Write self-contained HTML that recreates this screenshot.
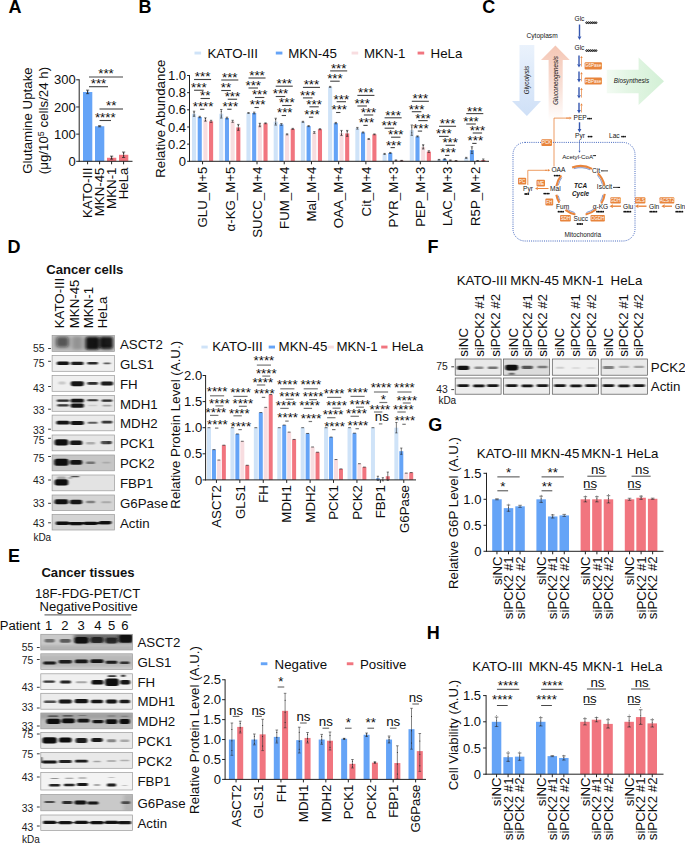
<!DOCTYPE html>
<html><head><meta charset="utf-8"><title>Figure</title>
<style>html,body{margin:0;padding:0;background:#fff}svg{display:block}text{font-family:"Liberation Sans",sans-serif}</style></head>
<body>
<svg width="685" height="844" viewBox="0 0 685 844">
<rect width="685" height="844" fill="#fff"/>
<text x="8.60" y="13.00" font-size="18" font-weight="bold" fill="#000" >A</text>
<text x="138.50" y="13.00" font-size="18" font-weight="bold" fill="#000" >B</text>
<text x="482.20" y="13.10" font-size="18" font-weight="bold" fill="#000" >C</text>
<text x="7.50" y="252.80" font-size="18" font-weight="bold" fill="#000" >D</text>
<text x="8.10" y="562.20" font-size="18" font-weight="bold" fill="#000" >E</text>
<text x="427.60" y="252.80" font-size="18" font-weight="bold" fill="#000" >F</text>
<text x="428.20" y="430.80" font-size="18" font-weight="bold" fill="#000" >G</text>
<text x="426.70" y="638.90" font-size="18" font-weight="bold" fill="#000" >H</text>
<rect x="83.00" y="92.02" width="9.30" height="69.28" fill="#65a4f7" />
<rect x="95.00" y="126.25" width="9.30" height="35.05" fill="#65a4f7" />
<rect x="107.00" y="157.77" width="9.30" height="3.53" fill="#f1757f" />
<rect x="119.00" y="154.78" width="9.30" height="6.52" fill="#f1757f" />
<line x1="87.60" y1="90.12" x2="87.60" y2="93.66" stroke="#222" stroke-width="0.7" />
<line x1="86.00" y1="90.12" x2="89.20" y2="90.12" stroke="#222" stroke-width="0.7" />
<line x1="86.00" y1="93.66" x2="89.20" y2="93.66" stroke="#222" stroke-width="0.7" />
<line x1="99.60" y1="125.71" x2="99.60" y2="126.80" stroke="#222" stroke-width="0.7" />
<line x1="98.00" y1="125.71" x2="101.20" y2="125.71" stroke="#222" stroke-width="0.7" />
<line x1="98.00" y1="126.80" x2="101.20" y2="126.80" stroke="#222" stroke-width="0.7" />
<line x1="111.60" y1="156.14" x2="111.60" y2="159.13" stroke="#222" stroke-width="0.7" />
<line x1="110.00" y1="156.14" x2="113.20" y2="156.14" stroke="#222" stroke-width="0.7" />
<line x1="110.00" y1="159.13" x2="113.20" y2="159.13" stroke="#222" stroke-width="0.7" />
<line x1="123.60" y1="152.06" x2="123.60" y2="157.50" stroke="#222" stroke-width="0.7" />
<line x1="122.00" y1="152.06" x2="125.20" y2="152.06" stroke="#222" stroke-width="0.7" />
<line x1="122.00" y1="157.50" x2="125.20" y2="157.50" stroke="#222" stroke-width="0.7" />
<circle cx="87.60" cy="91.21" r="0.6" fill="#222"/>
<circle cx="87.60" cy="92.84" r="0.6" fill="#222"/>
<circle cx="111.60" cy="156.95" r="0.6" fill="#222"/>
<circle cx="111.60" cy="158.58" r="0.6" fill="#222"/>
<circle cx="123.60" cy="153.15" r="0.6" fill="#222"/>
<circle cx="123.60" cy="155.87" r="0.6" fill="#222"/>
<line x1="79.20" y1="79.30" x2="79.20" y2="161.80" stroke="#222" stroke-width="1" />
<line x1="78.70" y1="161.30" x2="132.50" y2="161.30" stroke="#222" stroke-width="1" />
<line x1="76.20" y1="161.30" x2="79.20" y2="161.30" stroke="#222" stroke-width="1" />
<text x="75.80" y="165.90" font-size="13" text-anchor="end" fill="#0d0d0d" >0</text>
<line x1="76.20" y1="134.13" x2="79.20" y2="134.13" stroke="#222" stroke-width="1" />
<text x="75.80" y="138.73" font-size="13" text-anchor="end" fill="#0d0d0d" >100</text>
<line x1="76.20" y1="106.97" x2="79.20" y2="106.97" stroke="#222" stroke-width="1" />
<text x="75.80" y="111.57" font-size="13" text-anchor="end" fill="#0d0d0d" >200</text>
<line x1="76.20" y1="79.80" x2="79.20" y2="79.80" stroke="#222" stroke-width="1" />
<text x="75.80" y="84.40" font-size="13" text-anchor="end" fill="#0d0d0d" >300</text>
<line x1="87.60" y1="161.30" x2="87.60" y2="164.30" stroke="#222" stroke-width="1" />
<text x="92.36" y="167.50" font-size="13.3" text-anchor="end" fill="#0d0d0d" transform="rotate(-90 92.36 167.50)" >KATO-III</text>
<line x1="99.60" y1="161.30" x2="99.60" y2="164.30" stroke="#222" stroke-width="1" />
<text x="104.36" y="167.50" font-size="13.3" text-anchor="end" fill="#0d0d0d" transform="rotate(-90 104.36 167.50)" >MKN-45</text>
<line x1="111.60" y1="161.30" x2="111.60" y2="164.30" stroke="#222" stroke-width="1" />
<text x="116.36" y="167.50" font-size="13.3" text-anchor="end" fill="#0d0d0d" transform="rotate(-90 116.36 167.50)" >MKN-1</text>
<line x1="123.60" y1="161.30" x2="123.60" y2="164.30" stroke="#222" stroke-width="1" />
<text x="128.36" y="167.50" font-size="13.3" text-anchor="end" fill="#0d0d0d" transform="rotate(-90 128.36 167.50)" >HeLa</text>
<text x="32.00" y="120.50" font-size="13.3" text-anchor="middle" fill="#0d0d0d" transform="rotate(-90 32.00 120.50)" >Glutamine Uptake</text>
<text x="48.00" y="120.50" font-size="13.3" text-anchor="middle" fill="#0d0d0d" transform="rotate(-90 48.00 120.50)" >(μg/10<tspan font-size="9" dy="-4.5">5</tspan><tspan dy="4.5"> cells/24 h)</tspan></text>
<line x1="89.00" y1="77.00" x2="123.00" y2="77.00" stroke="#444" stroke-width="1.1" />
<text x="106.00" y="77.90" font-size="13.3" text-anchor="middle" fill="#0d0d0d" >***</text>
<line x1="89.00" y1="86.70" x2="108.00" y2="86.70" stroke="#444" stroke-width="1.1" />
<text x="98.50" y="87.60" font-size="13.3" text-anchor="middle" fill="#0d0d0d" >***</text>
<line x1="99.50" y1="109.00" x2="123.00" y2="109.00" stroke="#444" stroke-width="1.1" />
<text x="111.25" y="109.80" font-size="13.3" text-anchor="middle" fill="#0d0d0d" >**</text>
<line x1="99.50" y1="120.50" x2="111.00" y2="120.50" stroke="#444" stroke-width="1.1" />
<text x="105.25" y="122.10" font-size="13.3" text-anchor="middle" fill="#0d0d0d" >****</text>
<rect x="192.00" y="113.77" width="4.10" height="47.53" fill="#cfe3f8" />
<line x1="194.05" y1="111.19" x2="194.05" y2="116.34" stroke="#222" stroke-width="0.6" />
<line x1="192.85" y1="111.19" x2="195.25" y2="111.19" stroke="#222" stroke-width="0.6" />
<line x1="192.85" y1="116.34" x2="195.25" y2="116.34" stroke="#222" stroke-width="0.6" />
<circle cx="194.05" cy="112.22" r="0.5" fill="#222"/>
<circle cx="194.05" cy="115.05" r="0.5" fill="#222"/>
<rect x="197.68" y="117.03" width="4.10" height="44.27" fill="#65a4f7" />
<line x1="199.73" y1="116.34" x2="199.73" y2="117.71" stroke="#222" stroke-width="0.6" />
<line x1="198.53" y1="116.34" x2="200.93" y2="116.34" stroke="#222" stroke-width="0.6" />
<line x1="198.53" y1="117.71" x2="200.93" y2="117.71" stroke="#222" stroke-width="0.6" />
<rect x="203.36" y="119.52" width="4.10" height="41.78" fill="#f8dde0" />
<line x1="205.41" y1="117.80" x2="205.41" y2="121.23" stroke="#222" stroke-width="0.6" />
<line x1="204.21" y1="117.80" x2="206.61" y2="117.80" stroke="#222" stroke-width="0.6" />
<line x1="204.21" y1="121.23" x2="206.61" y2="121.23" stroke="#222" stroke-width="0.6" />
<circle cx="205.41" cy="118.49" r="0.5" fill="#222"/>
<circle cx="205.41" cy="120.37" r="0.5" fill="#222"/>
<rect x="209.04" y="121.32" width="4.10" height="39.98" fill="#f1757f" />
<line x1="211.09" y1="120.29" x2="211.09" y2="122.35" stroke="#222" stroke-width="0.6" />
<line x1="209.89" y1="120.29" x2="212.29" y2="120.29" stroke="#222" stroke-width="0.6" />
<line x1="209.89" y1="122.35" x2="212.29" y2="122.35" stroke="#222" stroke-width="0.6" />
<line x1="194.05" y1="79.50" x2="211.09" y2="79.50" stroke="#444" stroke-width="1.1" />
<text x="202.57" y="81.40" font-size="13.3" text-anchor="middle" fill="#0d0d0d" >***</text>
<line x1="194.05" y1="90.25" x2="203.61" y2="90.25" stroke="#444" stroke-width="1.1" />
<text x="198.83" y="92.15" font-size="13.3" text-anchor="middle" fill="#0d0d0d" >***</text>
<line x1="200.53" y1="98.50" x2="209.89" y2="98.50" stroke="#444" stroke-width="1.1" />
<text x="205.21" y="100.40" font-size="13.3" text-anchor="middle" fill="#0d0d0d" >**</text>
<line x1="200.03" y1="109.25" x2="204.33" y2="109.25" stroke="#444" stroke-width="1.1" />
<text x="203.13" y="111.15" font-size="13.3" text-anchor="middle" fill="#0d0d0d" >****</text>
<line x1="202.57" y1="161.30" x2="202.57" y2="164.30" stroke="#222" stroke-width="1" />
<text x="207.33" y="166.50" font-size="13.3" text-anchor="end" fill="#0d0d0d" transform="rotate(-90 207.33 166.50)" >GLU_M+5</text>
<rect x="219.22" y="113.77" width="4.10" height="47.53" fill="#cfe3f8" />
<line x1="221.27" y1="109.48" x2="221.27" y2="118.06" stroke="#222" stroke-width="0.6" />
<line x1="220.07" y1="109.48" x2="222.47" y2="109.48" stroke="#222" stroke-width="0.6" />
<line x1="220.07" y1="118.06" x2="222.47" y2="118.06" stroke="#222" stroke-width="0.6" />
<circle cx="221.27" cy="111.19" r="0.5" fill="#222"/>
<circle cx="221.27" cy="115.91" r="0.5" fill="#222"/>
<rect x="224.90" y="118.06" width="4.10" height="43.24" fill="#65a4f7" />
<line x1="226.95" y1="117.20" x2="226.95" y2="118.91" stroke="#222" stroke-width="0.6" />
<line x1="225.75" y1="117.20" x2="228.15" y2="117.20" stroke="#222" stroke-width="0.6" />
<line x1="225.75" y1="118.91" x2="228.15" y2="118.91" stroke="#222" stroke-width="0.6" />
<rect x="230.58" y="121.32" width="4.10" height="39.98" fill="#f8dde0" />
<line x1="232.63" y1="120.29" x2="232.63" y2="122.35" stroke="#222" stroke-width="0.6" />
<line x1="231.43" y1="120.29" x2="233.83" y2="120.29" stroke="#222" stroke-width="0.6" />
<line x1="231.43" y1="122.35" x2="233.83" y2="122.35" stroke="#222" stroke-width="0.6" />
<rect x="236.26" y="127.41" width="4.10" height="33.89" fill="#f1757f" />
<line x1="238.31" y1="124.41" x2="238.31" y2="130.41" stroke="#222" stroke-width="0.6" />
<line x1="237.11" y1="124.41" x2="239.51" y2="124.41" stroke="#222" stroke-width="0.6" />
<line x1="237.11" y1="130.41" x2="239.51" y2="130.41" stroke="#222" stroke-width="0.6" />
<circle cx="238.31" cy="125.61" r="0.5" fill="#222"/>
<circle cx="238.31" cy="128.91" r="0.5" fill="#222"/>
<line x1="221.27" y1="80.00" x2="238.31" y2="80.00" stroke="#444" stroke-width="1.1" />
<text x="229.79" y="81.90" font-size="13.3" text-anchor="middle" fill="#0d0d0d" >***</text>
<line x1="221.27" y1="90.50" x2="230.83" y2="90.50" stroke="#444" stroke-width="1.1" />
<text x="226.05" y="92.40" font-size="13.3" text-anchor="middle" fill="#0d0d0d" >**</text>
<line x1="227.75" y1="99.25" x2="237.11" y2="99.25" stroke="#444" stroke-width="1.1" />
<text x="232.43" y="101.15" font-size="13.3" text-anchor="middle" fill="#0d0d0d" >***</text>
<line x1="227.25" y1="109.25" x2="231.55" y2="109.25" stroke="#444" stroke-width="1.1" />
<text x="230.35" y="111.15" font-size="13.3" text-anchor="middle" fill="#0d0d0d" >***</text>
<line x1="229.79" y1="161.30" x2="229.79" y2="164.30" stroke="#222" stroke-width="1" />
<text x="234.55" y="166.50" font-size="13.3" text-anchor="end" fill="#0d0d0d" transform="rotate(-90 234.55 166.50)" >α-KG_M+5</text>
<rect x="246.44" y="112.99" width="4.10" height="48.31" fill="#cfe3f8" />
<line x1="248.49" y1="112.57" x2="248.49" y2="113.42" stroke="#222" stroke-width="0.6" />
<line x1="247.29" y1="112.57" x2="249.69" y2="112.57" stroke="#222" stroke-width="0.6" />
<line x1="247.29" y1="113.42" x2="249.69" y2="113.42" stroke="#222" stroke-width="0.6" />
<rect x="252.12" y="112.99" width="4.10" height="48.31" fill="#65a4f7" />
<line x1="254.17" y1="112.14" x2="254.17" y2="113.85" stroke="#222" stroke-width="0.6" />
<line x1="252.97" y1="112.14" x2="255.37" y2="112.14" stroke="#222" stroke-width="0.6" />
<line x1="252.97" y1="113.85" x2="255.37" y2="113.85" stroke="#222" stroke-width="0.6" />
<rect x="257.80" y="125.01" width="4.10" height="36.29" fill="#f8dde0" />
<line x1="259.85" y1="123.29" x2="259.85" y2="126.72" stroke="#222" stroke-width="0.6" />
<line x1="258.65" y1="123.29" x2="261.05" y2="123.29" stroke="#222" stroke-width="0.6" />
<line x1="258.65" y1="126.72" x2="261.05" y2="126.72" stroke="#222" stroke-width="0.6" />
<circle cx="259.85" cy="123.98" r="0.5" fill="#222"/>
<circle cx="259.85" cy="125.86" r="0.5" fill="#222"/>
<rect x="263.48" y="123.29" width="4.10" height="38.01" fill="#f1757f" />
<line x1="265.53" y1="122.86" x2="265.53" y2="123.72" stroke="#222" stroke-width="0.6" />
<line x1="264.33" y1="122.86" x2="266.73" y2="122.86" stroke="#222" stroke-width="0.6" />
<line x1="264.33" y1="123.72" x2="266.73" y2="123.72" stroke="#222" stroke-width="0.6" />
<line x1="248.49" y1="78.00" x2="265.53" y2="78.00" stroke="#444" stroke-width="1.1" />
<text x="257.01" y="79.90" font-size="13.3" text-anchor="middle" fill="#0d0d0d" >***</text>
<line x1="248.49" y1="88.00" x2="258.05" y2="88.00" stroke="#444" stroke-width="1.1" />
<text x="253.27" y="89.90" font-size="13.3" text-anchor="middle" fill="#0d0d0d" >***</text>
<line x1="254.97" y1="97.50" x2="264.33" y2="97.50" stroke="#444" stroke-width="1.1" />
<text x="259.65" y="99.40" font-size="13.3" text-anchor="middle" fill="#0d0d0d" >***</text>
<line x1="254.47" y1="107.50" x2="258.77" y2="107.50" stroke="#444" stroke-width="1.1" />
<text x="257.57" y="109.40" font-size="13.3" text-anchor="middle" fill="#0d0d0d" >***</text>
<line x1="257.01" y1="161.30" x2="257.01" y2="164.30" stroke="#222" stroke-width="1" />
<text x="261.77" y="166.50" font-size="13.3" text-anchor="end" fill="#0d0d0d" transform="rotate(-90 261.77 166.50)" >SUCC_M+4</text>
<rect x="273.66" y="121.66" width="4.10" height="39.64" fill="#cfe3f8" />
<line x1="275.71" y1="118.23" x2="275.71" y2="125.09" stroke="#222" stroke-width="0.6" />
<line x1="274.51" y1="118.23" x2="276.91" y2="118.23" stroke="#222" stroke-width="0.6" />
<line x1="274.51" y1="125.09" x2="276.91" y2="125.09" stroke="#222" stroke-width="0.6" />
<circle cx="275.71" cy="119.60" r="0.5" fill="#222"/>
<circle cx="275.71" cy="123.38" r="0.5" fill="#222"/>
<rect x="279.34" y="124.41" width="4.10" height="36.89" fill="#65a4f7" />
<line x1="281.39" y1="123.55" x2="281.39" y2="125.26" stroke="#222" stroke-width="0.6" />
<line x1="280.19" y1="123.55" x2="282.59" y2="123.55" stroke="#222" stroke-width="0.6" />
<line x1="280.19" y1="125.26" x2="282.59" y2="125.26" stroke="#222" stroke-width="0.6" />
<rect x="285.02" y="134.36" width="4.10" height="26.94" fill="#f8dde0" />
<line x1="287.07" y1="133.84" x2="287.07" y2="134.87" stroke="#222" stroke-width="0.6" />
<line x1="285.87" y1="133.84" x2="288.27" y2="133.84" stroke="#222" stroke-width="0.6" />
<line x1="285.87" y1="134.87" x2="288.27" y2="134.87" stroke="#222" stroke-width="0.6" />
<rect x="290.70" y="128.87" width="4.10" height="32.43" fill="#f1757f" />
<line x1="292.75" y1="128.35" x2="292.75" y2="129.38" stroke="#222" stroke-width="0.6" />
<line x1="291.55" y1="128.35" x2="293.95" y2="128.35" stroke="#222" stroke-width="0.6" />
<line x1="291.55" y1="129.38" x2="293.95" y2="129.38" stroke="#222" stroke-width="0.6" />
<line x1="275.71" y1="86.20" x2="292.75" y2="86.20" stroke="#444" stroke-width="1.1" />
<text x="284.23" y="88.10" font-size="13.3" text-anchor="middle" fill="#0d0d0d" >***</text>
<line x1="275.71" y1="96.50" x2="285.27" y2="96.50" stroke="#444" stroke-width="1.1" />
<text x="280.49" y="98.40" font-size="13.3" text-anchor="middle" fill="#0d0d0d" >***</text>
<line x1="282.19" y1="105.50" x2="291.55" y2="105.50" stroke="#444" stroke-width="1.1" />
<text x="286.87" y="107.40" font-size="13.3" text-anchor="middle" fill="#0d0d0d" >***</text>
<line x1="281.69" y1="115.50" x2="285.99" y2="115.50" stroke="#444" stroke-width="1.1" />
<text x="284.79" y="117.40" font-size="13.3" text-anchor="middle" fill="#0d0d0d" >***</text>
<line x1="284.23" y1="161.30" x2="284.23" y2="164.30" stroke="#222" stroke-width="1" />
<text x="288.99" y="166.50" font-size="13.3" text-anchor="end" fill="#0d0d0d" transform="rotate(-90 288.99 166.50)" >FUM_M+4</text>
<rect x="300.88" y="121.83" width="4.10" height="39.47" fill="#cfe3f8" />
<line x1="302.93" y1="121.32" x2="302.93" y2="122.35" stroke="#222" stroke-width="0.6" />
<line x1="301.73" y1="121.32" x2="304.13" y2="121.32" stroke="#222" stroke-width="0.6" />
<line x1="301.73" y1="122.35" x2="304.13" y2="122.35" stroke="#222" stroke-width="0.6" />
<rect x="306.56" y="126.12" width="4.10" height="35.18" fill="#65a4f7" />
<line x1="308.61" y1="125.61" x2="308.61" y2="126.64" stroke="#222" stroke-width="0.6" />
<line x1="307.41" y1="125.61" x2="309.81" y2="125.61" stroke="#222" stroke-width="0.6" />
<line x1="307.41" y1="126.64" x2="309.81" y2="126.64" stroke="#222" stroke-width="0.6" />
<rect x="312.24" y="132.47" width="4.10" height="28.83" fill="#f8dde0" />
<line x1="314.29" y1="131.61" x2="314.29" y2="133.33" stroke="#222" stroke-width="0.6" />
<line x1="313.09" y1="131.61" x2="315.49" y2="131.61" stroke="#222" stroke-width="0.6" />
<line x1="313.09" y1="133.33" x2="315.49" y2="133.33" stroke="#222" stroke-width="0.6" />
<rect x="317.92" y="129.21" width="4.10" height="32.09" fill="#f1757f" />
<line x1="319.97" y1="128.70" x2="319.97" y2="129.73" stroke="#222" stroke-width="0.6" />
<line x1="318.77" y1="128.70" x2="321.17" y2="128.70" stroke="#222" stroke-width="0.6" />
<line x1="318.77" y1="129.73" x2="321.17" y2="129.73" stroke="#222" stroke-width="0.6" />
<line x1="302.93" y1="87.40" x2="319.97" y2="87.40" stroke="#444" stroke-width="1.1" />
<text x="311.45" y="89.30" font-size="13.3" text-anchor="middle" fill="#0d0d0d" >***</text>
<line x1="302.93" y1="97.90" x2="312.49" y2="97.90" stroke="#444" stroke-width="1.1" />
<text x="307.71" y="99.80" font-size="13.3" text-anchor="middle" fill="#0d0d0d" >***</text>
<line x1="309.41" y1="106.80" x2="318.77" y2="106.80" stroke="#444" stroke-width="1.1" />
<text x="314.09" y="108.70" font-size="13.3" text-anchor="middle" fill="#0d0d0d" >***</text>
<line x1="308.91" y1="117.20" x2="313.21" y2="117.20" stroke="#444" stroke-width="1.1" />
<text x="312.01" y="119.10" font-size="13.3" text-anchor="middle" fill="#0d0d0d" >***</text>
<line x1="311.45" y1="161.30" x2="311.45" y2="164.30" stroke="#222" stroke-width="1" />
<text x="316.21" y="166.50" font-size="13.3" text-anchor="end" fill="#0d0d0d" transform="rotate(-90 316.21 166.50)" >Mal_M+4</text>
<rect x="328.10" y="86.91" width="4.10" height="74.39" fill="#cfe3f8" />
<line x1="330.15" y1="86.40" x2="330.15" y2="87.43" stroke="#222" stroke-width="0.6" />
<line x1="328.95" y1="86.40" x2="331.35" y2="86.40" stroke="#222" stroke-width="0.6" />
<line x1="328.95" y1="87.43" x2="331.35" y2="87.43" stroke="#222" stroke-width="0.6" />
<rect x="333.78" y="123.12" width="4.10" height="38.18" fill="#65a4f7" />
<line x1="335.83" y1="122.43" x2="335.83" y2="123.81" stroke="#222" stroke-width="0.6" />
<line x1="334.63" y1="122.43" x2="337.03" y2="122.43" stroke="#222" stroke-width="0.6" />
<line x1="334.63" y1="123.81" x2="337.03" y2="123.81" stroke="#222" stroke-width="0.6" />
<rect x="339.46" y="132.99" width="4.10" height="28.31" fill="#f8dde0" />
<line x1="341.51" y1="130.41" x2="341.51" y2="135.56" stroke="#222" stroke-width="0.6" />
<line x1="340.31" y1="130.41" x2="342.71" y2="130.41" stroke="#222" stroke-width="0.6" />
<line x1="340.31" y1="135.56" x2="342.71" y2="135.56" stroke="#222" stroke-width="0.6" />
<circle cx="341.51" cy="131.44" r="0.5" fill="#222"/>
<circle cx="341.51" cy="134.27" r="0.5" fill="#222"/>
<rect x="345.14" y="133.42" width="4.10" height="27.89" fill="#f1757f" />
<line x1="347.19" y1="130.41" x2="347.19" y2="136.42" stroke="#222" stroke-width="0.6" />
<line x1="345.99" y1="130.41" x2="348.39" y2="130.41" stroke="#222" stroke-width="0.6" />
<line x1="345.99" y1="136.42" x2="348.39" y2="136.42" stroke="#222" stroke-width="0.6" />
<circle cx="347.19" cy="131.61" r="0.5" fill="#222"/>
<circle cx="347.19" cy="134.92" r="0.5" fill="#222"/>
<line x1="330.15" y1="70.90" x2="347.19" y2="70.90" stroke="#444" stroke-width="1.1" />
<text x="338.67" y="72.80" font-size="13.3" text-anchor="middle" fill="#0d0d0d" >***</text>
<line x1="330.15" y1="81.20" x2="339.71" y2="81.20" stroke="#444" stroke-width="1.1" />
<text x="334.93" y="83.10" font-size="13.3" text-anchor="middle" fill="#0d0d0d" >***</text>
<line x1="336.63" y1="101.70" x2="345.99" y2="101.70" stroke="#444" stroke-width="1.1" />
<text x="341.31" y="103.60" font-size="13.3" text-anchor="middle" fill="#0d0d0d" >***</text>
<line x1="336.13" y1="112.50" x2="340.43" y2="112.50" stroke="#444" stroke-width="1.1" />
<text x="339.23" y="114.40" font-size="13.3" text-anchor="middle" fill="#0d0d0d" >***</text>
<line x1="338.67" y1="161.30" x2="338.67" y2="164.30" stroke="#222" stroke-width="1" />
<text x="343.43" y="166.50" font-size="13.3" text-anchor="end" fill="#0d0d0d" transform="rotate(-90 343.43 166.50)" >OAA_M+4</text>
<rect x="355.32" y="128.27" width="4.10" height="33.03" fill="#cfe3f8" />
<line x1="357.37" y1="127.41" x2="357.37" y2="129.12" stroke="#222" stroke-width="0.6" />
<line x1="356.17" y1="127.41" x2="358.57" y2="127.41" stroke="#222" stroke-width="0.6" />
<line x1="356.17" y1="129.12" x2="358.57" y2="129.12" stroke="#222" stroke-width="0.6" />
<rect x="361.00" y="132.47" width="4.10" height="28.83" fill="#65a4f7" />
<line x1="363.05" y1="131.96" x2="363.05" y2="132.99" stroke="#222" stroke-width="0.6" />
<line x1="361.85" y1="131.96" x2="364.25" y2="131.96" stroke="#222" stroke-width="0.6" />
<line x1="361.85" y1="132.99" x2="364.25" y2="132.99" stroke="#222" stroke-width="0.6" />
<rect x="366.68" y="138.99" width="4.10" height="22.31" fill="#f8dde0" />
<line x1="368.73" y1="138.48" x2="368.73" y2="139.51" stroke="#222" stroke-width="0.6" />
<line x1="367.53" y1="138.48" x2="369.93" y2="138.48" stroke="#222" stroke-width="0.6" />
<line x1="367.53" y1="139.51" x2="369.93" y2="139.51" stroke="#222" stroke-width="0.6" />
<rect x="372.36" y="134.36" width="4.10" height="26.94" fill="#f1757f" />
<line x1="374.41" y1="133.93" x2="374.41" y2="134.79" stroke="#222" stroke-width="0.6" />
<line x1="373.21" y1="133.93" x2="375.61" y2="133.93" stroke="#222" stroke-width="0.6" />
<line x1="373.21" y1="134.79" x2="375.61" y2="134.79" stroke="#222" stroke-width="0.6" />
<line x1="357.37" y1="95.40" x2="374.41" y2="95.40" stroke="#444" stroke-width="1.1" />
<text x="365.89" y="97.30" font-size="13.3" text-anchor="middle" fill="#0d0d0d" >***</text>
<line x1="357.37" y1="106.00" x2="366.93" y2="106.00" stroke="#444" stroke-width="1.1" />
<text x="362.15" y="107.90" font-size="13.3" text-anchor="middle" fill="#0d0d0d" >***</text>
<line x1="363.85" y1="115.00" x2="373.21" y2="115.00" stroke="#444" stroke-width="1.1" />
<text x="368.53" y="116.90" font-size="13.3" text-anchor="middle" fill="#0d0d0d" >***</text>
<line x1="363.35" y1="125.40" x2="367.65" y2="125.40" stroke="#444" stroke-width="1.1" />
<text x="366.45" y="127.30" font-size="13.3" text-anchor="middle" fill="#0d0d0d" >***</text>
<line x1="365.89" y1="161.30" x2="365.89" y2="164.30" stroke="#222" stroke-width="1" />
<text x="370.65" y="166.50" font-size="13.3" text-anchor="end" fill="#0d0d0d" transform="rotate(-90 370.65 166.50)" >Cit_M+4</text>
<rect x="382.54" y="153.92" width="4.10" height="7.38" fill="#cfe3f8" />
<line x1="384.59" y1="153.41" x2="384.59" y2="154.44" stroke="#222" stroke-width="0.6" />
<line x1="383.39" y1="153.41" x2="385.79" y2="153.41" stroke="#222" stroke-width="0.6" />
<line x1="383.39" y1="154.44" x2="385.79" y2="154.44" stroke="#222" stroke-width="0.6" />
<rect x="388.22" y="152.98" width="4.10" height="8.32" fill="#65a4f7" />
<line x1="390.27" y1="152.46" x2="390.27" y2="153.49" stroke="#222" stroke-width="0.6" />
<line x1="389.07" y1="152.46" x2="391.47" y2="152.46" stroke="#222" stroke-width="0.6" />
<line x1="389.07" y1="153.49" x2="391.47" y2="153.49" stroke="#222" stroke-width="0.6" />
<rect x="393.90" y="160.27" width="4.10" height="1.03" fill="#f8dde0" />
<line x1="395.95" y1="159.93" x2="395.95" y2="160.61" stroke="#222" stroke-width="0.6" />
<line x1="394.75" y1="159.93" x2="397.15" y2="159.93" stroke="#222" stroke-width="0.6" />
<line x1="394.75" y1="160.61" x2="397.15" y2="160.61" stroke="#222" stroke-width="0.6" />
<rect x="399.58" y="160.61" width="4.10" height="0.69" fill="#f1757f" />
<line x1="401.63" y1="160.36" x2="401.63" y2="160.87" stroke="#222" stroke-width="0.6" />
<line x1="400.43" y1="160.36" x2="402.83" y2="160.36" stroke="#222" stroke-width="0.6" />
<line x1="400.43" y1="160.87" x2="402.83" y2="160.87" stroke="#222" stroke-width="0.6" />
<line x1="384.59" y1="117.80" x2="401.63" y2="117.80" stroke="#444" stroke-width="1.1" />
<text x="393.11" y="119.70" font-size="13.3" text-anchor="middle" fill="#0d0d0d" >***</text>
<line x1="384.59" y1="128.20" x2="394.15" y2="128.20" stroke="#444" stroke-width="1.1" />
<text x="389.37" y="130.10" font-size="13.3" text-anchor="middle" fill="#0d0d0d" >***</text>
<line x1="391.07" y1="137.20" x2="400.43" y2="137.20" stroke="#444" stroke-width="1.1" />
<text x="395.75" y="139.10" font-size="13.3" text-anchor="middle" fill="#0d0d0d" >***</text>
<line x1="390.57" y1="147.60" x2="394.87" y2="147.60" stroke="#444" stroke-width="1.1" />
<text x="393.67" y="149.50" font-size="13.3" text-anchor="middle" fill="#0d0d0d" >***</text>
<line x1="393.11" y1="161.30" x2="393.11" y2="164.30" stroke="#222" stroke-width="1" />
<text x="397.87" y="166.50" font-size="13.3" text-anchor="end" fill="#0d0d0d" transform="rotate(-90 397.87 166.50)" >PYR_M+3</text>
<rect x="409.76" y="130.15" width="4.10" height="31.15" fill="#cfe3f8" />
<line x1="411.81" y1="125.01" x2="411.81" y2="135.30" stroke="#222" stroke-width="0.6" />
<line x1="410.61" y1="125.01" x2="413.01" y2="125.01" stroke="#222" stroke-width="0.6" />
<line x1="410.61" y1="135.30" x2="413.01" y2="135.30" stroke="#222" stroke-width="0.6" />
<circle cx="411.81" cy="127.07" r="0.5" fill="#222"/>
<circle cx="411.81" cy="132.73" r="0.5" fill="#222"/>
<rect x="415.44" y="136.42" width="4.10" height="24.88" fill="#65a4f7" />
<line x1="417.49" y1="135.90" x2="417.49" y2="136.93" stroke="#222" stroke-width="0.6" />
<line x1="416.29" y1="135.90" x2="418.69" y2="135.90" stroke="#222" stroke-width="0.6" />
<line x1="416.29" y1="136.93" x2="418.69" y2="136.93" stroke="#222" stroke-width="0.6" />
<rect x="421.12" y="146.89" width="4.10" height="14.41" fill="#f8dde0" />
<line x1="423.17" y1="144.74" x2="423.17" y2="149.03" stroke="#222" stroke-width="0.6" />
<line x1="421.97" y1="144.74" x2="424.37" y2="144.74" stroke="#222" stroke-width="0.6" />
<line x1="421.97" y1="149.03" x2="424.37" y2="149.03" stroke="#222" stroke-width="0.6" />
<circle cx="423.17" cy="145.60" r="0.5" fill="#222"/>
<circle cx="423.17" cy="147.96" r="0.5" fill="#222"/>
<rect x="426.80" y="151.60" width="4.10" height="9.70" fill="#f1757f" />
<line x1="428.85" y1="150.75" x2="428.85" y2="152.46" stroke="#222" stroke-width="0.6" />
<line x1="427.65" y1="150.75" x2="430.05" y2="150.75" stroke="#222" stroke-width="0.6" />
<line x1="427.65" y1="152.46" x2="430.05" y2="152.46" stroke="#222" stroke-width="0.6" />
<line x1="411.81" y1="101.30" x2="428.85" y2="101.30" stroke="#444" stroke-width="1.1" />
<text x="420.33" y="103.20" font-size="13.3" text-anchor="middle" fill="#0d0d0d" >***</text>
<line x1="411.81" y1="111.70" x2="421.37" y2="111.70" stroke="#444" stroke-width="1.1" />
<text x="416.59" y="113.60" font-size="13.3" text-anchor="middle" fill="#0d0d0d" >***</text>
<line x1="418.29" y1="120.60" x2="427.65" y2="120.60" stroke="#444" stroke-width="1.1" />
<text x="422.97" y="122.50" font-size="13.3" text-anchor="middle" fill="#0d0d0d" >***</text>
<line x1="417.79" y1="131.10" x2="422.09" y2="131.10" stroke="#444" stroke-width="1.1" />
<text x="420.89" y="133.00" font-size="13.3" text-anchor="middle" fill="#0d0d0d" >***</text>
<line x1="420.33" y1="161.30" x2="420.33" y2="164.30" stroke="#222" stroke-width="1" />
<text x="425.09" y="166.50" font-size="13.3" text-anchor="end" fill="#0d0d0d" transform="rotate(-90 425.09 166.50)" >PEP_M+3</text>
<rect x="436.98" y="159.76" width="4.10" height="1.54" fill="#cfe3f8" />
<line x1="439.03" y1="159.41" x2="439.03" y2="160.10" stroke="#222" stroke-width="0.6" />
<line x1="437.83" y1="159.41" x2="440.23" y2="159.41" stroke="#222" stroke-width="0.6" />
<line x1="437.83" y1="160.10" x2="440.23" y2="160.10" stroke="#222" stroke-width="0.6" />
<rect x="442.66" y="159.07" width="4.10" height="2.23" fill="#65a4f7" />
<line x1="444.71" y1="158.64" x2="444.71" y2="159.50" stroke="#222" stroke-width="0.6" />
<line x1="443.51" y1="158.64" x2="445.91" y2="158.64" stroke="#222" stroke-width="0.6" />
<line x1="443.51" y1="159.50" x2="445.91" y2="159.50" stroke="#222" stroke-width="0.6" />
<rect x="448.34" y="160.27" width="4.10" height="1.03" fill="#f8dde0" />
<line x1="450.39" y1="159.93" x2="450.39" y2="160.61" stroke="#222" stroke-width="0.6" />
<line x1="449.19" y1="159.93" x2="451.59" y2="159.93" stroke="#222" stroke-width="0.6" />
<line x1="449.19" y1="160.61" x2="451.59" y2="160.61" stroke="#222" stroke-width="0.6" />
<rect x="454.02" y="160.79" width="4.10" height="0.51" fill="#f1757f" />
<line x1="456.07" y1="160.53" x2="456.07" y2="161.04" stroke="#222" stroke-width="0.6" />
<line x1="454.87" y1="160.53" x2="457.27" y2="160.53" stroke="#222" stroke-width="0.6" />
<line x1="454.87" y1="161.04" x2="457.27" y2="161.04" stroke="#222" stroke-width="0.6" />
<line x1="439.03" y1="126.30" x2="456.07" y2="126.30" stroke="#444" stroke-width="1.1" />
<text x="447.55" y="128.20" font-size="13.3" text-anchor="middle" fill="#0d0d0d" >***</text>
<line x1="439.03" y1="136.40" x2="448.59" y2="136.40" stroke="#444" stroke-width="1.1" />
<text x="443.81" y="138.30" font-size="13.3" text-anchor="middle" fill="#0d0d0d" >***</text>
<line x1="445.51" y1="145.30" x2="454.87" y2="145.30" stroke="#444" stroke-width="1.1" />
<text x="450.19" y="147.20" font-size="13.3" text-anchor="middle" fill="#0d0d0d" >***</text>
<line x1="445.01" y1="155.40" x2="449.31" y2="155.40" stroke="#444" stroke-width="1.1" />
<text x="448.11" y="157.30" font-size="13.3" text-anchor="middle" fill="#0d0d0d" >***</text>
<line x1="447.55" y1="161.30" x2="447.55" y2="164.30" stroke="#222" stroke-width="1" />
<text x="452.31" y="166.50" font-size="13.3" text-anchor="end" fill="#0d0d0d" transform="rotate(-90 452.31 166.50)" >LAC_M+3</text>
<rect x="464.20" y="157.87" width="4.10" height="3.43" fill="#cfe3f8" />
<line x1="466.25" y1="157.35" x2="466.25" y2="158.38" stroke="#222" stroke-width="0.6" />
<line x1="465.05" y1="157.35" x2="467.45" y2="157.35" stroke="#222" stroke-width="0.6" />
<line x1="465.05" y1="158.38" x2="467.45" y2="158.38" stroke="#222" stroke-width="0.6" />
<rect x="469.88" y="150.15" width="4.10" height="11.15" fill="#65a4f7" />
<line x1="471.93" y1="146.71" x2="471.93" y2="153.58" stroke="#222" stroke-width="0.6" />
<line x1="470.73" y1="146.71" x2="473.13" y2="146.71" stroke="#222" stroke-width="0.6" />
<line x1="470.73" y1="153.58" x2="473.13" y2="153.58" stroke="#222" stroke-width="0.6" />
<circle cx="471.93" cy="148.09" r="0.5" fill="#222"/>
<circle cx="471.93" cy="151.86" r="0.5" fill="#222"/>
<rect x="475.56" y="160.79" width="4.10" height="0.51" fill="#f8dde0" />
<line x1="477.61" y1="160.53" x2="477.61" y2="161.04" stroke="#222" stroke-width="0.6" />
<line x1="476.41" y1="160.53" x2="478.81" y2="160.53" stroke="#222" stroke-width="0.6" />
<line x1="476.41" y1="161.04" x2="478.81" y2="161.04" stroke="#222" stroke-width="0.6" />
<rect x="481.24" y="160.01" width="4.10" height="1.29" fill="#f1757f" />
<line x1="483.29" y1="158.98" x2="483.29" y2="161.04" stroke="#222" stroke-width="0.6" />
<line x1="482.09" y1="158.98" x2="484.49" y2="158.98" stroke="#222" stroke-width="0.6" />
<line x1="482.09" y1="161.04" x2="484.49" y2="161.04" stroke="#222" stroke-width="0.6" />
<line x1="466.25" y1="113.60" x2="483.29" y2="113.60" stroke="#444" stroke-width="1.1" />
<text x="474.77" y="115.50" font-size="13.3" text-anchor="middle" fill="#0d0d0d" >***</text>
<line x1="466.25" y1="124.00" x2="475.81" y2="124.00" stroke="#444" stroke-width="1.1" />
<text x="471.03" y="125.90" font-size="13.3" text-anchor="middle" fill="#0d0d0d" >***</text>
<line x1="472.73" y1="133.00" x2="482.09" y2="133.00" stroke="#444" stroke-width="1.1" />
<text x="477.41" y="134.90" font-size="13.3" text-anchor="middle" fill="#0d0d0d" >***</text>
<line x1="472.23" y1="143.40" x2="476.53" y2="143.40" stroke="#444" stroke-width="1.1" />
<text x="475.33" y="145.30" font-size="13.3" text-anchor="middle" fill="#0d0d0d" >***</text>
<line x1="474.77" y1="161.30" x2="474.77" y2="164.30" stroke="#222" stroke-width="1" />
<text x="479.53" y="166.50" font-size="13.3" text-anchor="end" fill="#0d0d0d" transform="rotate(-90 479.53 166.50)" >R5P_M+2</text>
<line x1="189.50" y1="75.00" x2="189.50" y2="161.80" stroke="#222" stroke-width="1" />
<line x1="189.00" y1="161.30" x2="489.00" y2="161.30" stroke="#222" stroke-width="1" />
<line x1="187.10" y1="161.30" x2="189.50" y2="161.30" stroke="#222" stroke-width="1" />
<text x="186.10" y="165.90" font-size="13" text-anchor="end" fill="#0d0d0d" >0</text>
<line x1="187.10" y1="144.14" x2="189.50" y2="144.14" stroke="#222" stroke-width="1" />
<text x="186.10" y="148.74" font-size="13" text-anchor="end" fill="#0d0d0d" >0.2</text>
<line x1="187.10" y1="126.98" x2="189.50" y2="126.98" stroke="#222" stroke-width="1" />
<text x="186.10" y="131.58" font-size="13" text-anchor="end" fill="#0d0d0d" >0.4</text>
<line x1="187.10" y1="109.82" x2="189.50" y2="109.82" stroke="#222" stroke-width="1" />
<text x="186.10" y="114.42" font-size="13" text-anchor="end" fill="#0d0d0d" >0.6</text>
<line x1="187.10" y1="92.66" x2="189.50" y2="92.66" stroke="#222" stroke-width="1" />
<text x="186.10" y="97.26" font-size="13" text-anchor="end" fill="#0d0d0d" >0.8</text>
<line x1="187.10" y1="75.50" x2="189.50" y2="75.50" stroke="#222" stroke-width="1" />
<text x="186.10" y="80.10" font-size="13" text-anchor="end" fill="#0d0d0d" >1.0</text>
<text x="165.00" y="118.70" font-size="13.3" text-anchor="middle" fill="#0d0d0d" transform="rotate(-90 165.00 118.70)" >Relative Abundance</text>
<rect x="194.50" y="51.60" width="6.60" height="2.90" fill="#cfe3f8" />
<text x="207.50" y="58.00" font-size="13.3" fill="#0d0d0d" >KATO-III</text>
<rect x="275.80" y="51.60" width="6.60" height="2.90" fill="#65a4f7" />
<text x="288.20" y="58.00" font-size="13.3" fill="#0d0d0d" >MKN-45</text>
<rect x="351.60" y="51.60" width="6.60" height="2.90" fill="#f8dde0" />
<text x="364.00" y="58.00" font-size="13.3" fill="#0d0d0d" >MKN-1</text>
<rect x="417.60" y="51.60" width="6.60" height="2.90" fill="#f1757f" />
<text x="430.60" y="58.00" font-size="13.3" fill="#0d0d0d" >HeLa</text>
<defs>
<linearGradient id="gly" x1="0" y1="0" x2="0" y2="1"><stop offset="0" stop-color="#eaf2fc"/><stop offset="1" stop-color="#cfe0f7"/></linearGradient>
<linearGradient id="gng" x1="0" y1="0" x2="0" y2="1"><stop offset="0" stop-color="#f4c6b4"/><stop offset="0.55" stop-color="#f9e0d7"/><stop offset="1" stop-color="#ffffff"/></linearGradient>
<linearGradient id="bio" x1="0" y1="0" x2="1" y2="0"><stop offset="0" stop-color="#f3fbf3"/><stop offset="0.35" stop-color="#e4f6e5"/><stop offset="1" stop-color="#d3f0d6"/></linearGradient>
</defs>
<polygon points="519.5,45 534.3,45 534.3,101 541,101 526.9,116 512,101 519.5,101" fill="url(#gly)"/>
<polygon points="555.4,45.4 569.7,60 562.7,60 562.7,121 548.6,121 548.6,60 541,60" fill="url(#gng)"/>
<polygon points="606.8,69.7 638.6,69.7 638.6,57.6 664,81.3 638.6,104.9 638.6,93.2 606.8,93.2" fill="url(#bio)"/>
<text x="526.50" y="37.80" font-size="6.6" fill="#151515" >Cytoplasm</text>
<text x="528.80" y="80.00" font-size="6.3" text-anchor="middle" font-style="italic" fill="#151515" transform="rotate(-90 528.80 80.00)" >Glycolysis</text>
<text x="558.00" y="80.50" font-size="6.3" text-anchor="middle" font-style="italic" fill="#151515" transform="rotate(-90 558.00 80.50)" >Gluconeogenesis</text>
<text x="631.50" y="82.60" font-size="6.3" text-anchor="middle" font-style="italic" fill="#151515" >Biosynthesis</text>
<text x="574.50" y="21.00" font-size="6.6" fill="#151515" >Glc</text>
<circle cx="586.60" cy="22.70" r="0.85" fill="none" stroke="#000" stroke-width="0.9"/>
<circle cx="588.50" cy="22.70" r="0.85" fill="none" stroke="#000" stroke-width="0.9"/>
<circle cx="590.40" cy="22.70" r="0.85" fill="none" stroke="#000" stroke-width="0.9"/>
<circle cx="592.30" cy="22.70" r="0.85" fill="none" stroke="#000" stroke-width="0.9"/>
<circle cx="594.20" cy="22.70" r="0.85" fill="none" stroke="#000" stroke-width="0.9"/>
<circle cx="596.10" cy="22.70" r="0.85" fill="none" stroke="#000" stroke-width="0.9"/>
<text x="574.50" y="50.00" font-size="6.6" fill="#151515" >Glc</text>
<circle cx="586.60" cy="50.60" r="0.85" fill="none" stroke="#000" stroke-width="0.9"/>
<circle cx="588.50" cy="50.60" r="0.85" fill="none" stroke="#000" stroke-width="0.9"/>
<circle cx="590.40" cy="50.60" r="0.85" fill="none" stroke="#000" stroke-width="0.9"/>
<circle cx="592.30" cy="50.60" r="0.85" fill="none" stroke="#000" stroke-width="0.9"/>
<circle cx="594.20" cy="50.60" r="0.85" fill="none" stroke="#000" stroke-width="0.9"/>
<circle cx="596.10" cy="50.60" r="0.85" fill="none" stroke="#000" stroke-width="0.9"/>
<line x1="579.50" y1="24.50" x2="579.50" y2="36.60" stroke="#3557b0" stroke-width="1.4" />
<polygon points="579.50,40.00 577.63,36.60 581.37,36.60" fill="#3557b0"/>
<line x1="579.00" y1="55.40" x2="579.00" y2="64.20" stroke="#3557b0" stroke-width="1.4" />
<polygon points="579.00,67.60 577.13,64.20 580.87,64.20" fill="#3557b0"/>
<line x1="581.50" y1="66.60" x2="581.50" y2="58.10" stroke="#e8843c" stroke-width="0.7" />
<polygon points="581.50,55.90 582.71,58.10 580.29,58.10" fill="#e8843c"/>
<line x1="579.00" y1="71.60" x2="579.00" y2="79.00" stroke="#3557b0" stroke-width="1.4" />
<polygon points="579.00,82.40 577.13,79.00 580.87,79.00" fill="#3557b0"/>
<line x1="581.50" y1="81.40" x2="581.50" y2="74.30" stroke="#e8843c" stroke-width="0.7" />
<polygon points="581.50,72.10 582.71,74.30 580.29,74.30" fill="#e8843c"/>
<line x1="579.00" y1="87.30" x2="579.00" y2="95.20" stroke="#3557b0" stroke-width="1.4" />
<polygon points="579.00,98.60 577.13,95.20 580.87,95.20" fill="#3557b0"/>
<line x1="581.50" y1="97.60" x2="581.50" y2="90.00" stroke="#e8843c" stroke-width="0.7" />
<polygon points="581.50,87.80 582.71,90.00 580.29,90.00" fill="#e8843c"/>
<line x1="579.00" y1="102.70" x2="579.00" y2="110.10" stroke="#3557b0" stroke-width="1.4" />
<polygon points="579.00,113.50 577.13,110.10 580.87,110.10" fill="#3557b0"/>
<line x1="581.50" y1="112.50" x2="581.50" y2="105.40" stroke="#e8843c" stroke-width="0.7" />
<polygon points="581.50,103.20 582.71,105.40 580.29,105.40" fill="#e8843c"/>
<rect x="584.60" y="62.20" width="17.30" height="7.30" rx="1" fill="#e8843c"/>
<text x="593.25" y="67.47" font-size="4.5" text-anchor="middle" fill="#fff" >G6Pase</text>
<rect x="584.60" y="77.60" width="17.30" height="7.00" rx="1" fill="#e8843c"/>
<text x="593.25" y="82.72" font-size="4.5" text-anchor="middle" fill="#fff" >FBPase</text>
<text x="573.50" y="120.40" font-size="6.6" fill="#151515" >PEP</text>
<circle cx="588.00" cy="118.60" r="0.9" fill="#111"/>
<circle cx="589.55" cy="118.60" r="0.9" fill="#111"/>
<circle cx="591.10" cy="118.60" r="0.9" fill="#111"/>
<polyline points="554,166.5 554,118.1 569,118.1" fill="none" stroke="#e8843c" stroke-width="0.8"/>
<line x1="566.00" y1="118.10" x2="569.40" y2="118.10" stroke="#e8843c" stroke-width="0.8" />
<polygon points="571.80,118.10 569.40,119.42 569.40,116.78" fill="#e8843c"/>
<line x1="579.50" y1="122.30" x2="579.50" y2="129.00" stroke="#3557b0" stroke-width="1.4" />
<polygon points="579.50,132.40 577.63,129.00 581.37,129.00" fill="#3557b0"/>
<text x="575.00" y="138.30" font-size="6.6" fill="#151515" >Pyr</text>
<circle cx="588.50" cy="136.60" r="0.9" fill="#111"/>
<circle cx="590.05" cy="136.60" r="0.9" fill="#111"/>
<circle cx="591.60" cy="136.60" r="0.9" fill="#111"/>
<text x="609.00" y="138.30" font-size="6.6" fill="#151515" >Lac</text>
<circle cx="622.00" cy="136.60" r="0.9" fill="#111"/>
<circle cx="623.55" cy="136.60" r="0.9" fill="#111"/>
<circle cx="625.10" cy="136.60" r="0.9" fill="#111"/>
<line x1="579.50" y1="140.00" x2="579.50" y2="150.70" stroke="#3557b0" stroke-width="0.6" />
<polygon points="579.50,152.70 578.40,150.70 580.60,150.70" fill="#3557b0"/>
<rect x="513" y="142.4" width="122" height="98.6" rx="12" fill="none" stroke="#3259b8" stroke-width="0.95" stroke-dasharray="0.95 1.2"/>
<rect x="541.40" y="139.20" width="10.60" height="6.80" rx="1" fill="#e8843c"/>
<text x="546.70" y="144.22" font-size="4.5" text-anchor="middle" fill="#fff" >PCK</text>
<text x="562.20" y="158.50" font-size="6.2" fill="#151515" >Acetyl-CoA</text>
<circle cx="593.30" cy="155.60" r="0.6" fill="#111"/>
<circle cx="594.40" cy="155.60" r="0.6" fill="#111"/>
<circle cx="595.50" cy="155.60" r="0.6" fill="#111"/>
<text x="551.40" y="172.00" font-size="6.6" fill="#151515" >OAA</text>
<circle cx="554.60" cy="175.60" r="0.9" fill="#111"/>
<circle cx="556.15" cy="175.60" r="0.9" fill="#111"/>
<circle cx="557.70" cy="175.60" r="0.9" fill="#111"/>
<circle cx="559.25" cy="175.60" r="0.9" fill="#111"/>
<text x="592.00" y="172.60" font-size="6.6" fill="#151515" >Cit</text>
<circle cx="601.50" cy="170.80" r="0.6" fill="#111"/>
<circle cx="602.65" cy="170.80" r="0.6" fill="#111"/>
<circle cx="603.80" cy="170.80" r="0.6" fill="#111"/>
<circle cx="604.95" cy="170.80" r="0.6" fill="#111"/>
<circle cx="606.10" cy="170.80" r="0.6" fill="#111"/>
<circle cx="607.25" cy="170.80" r="0.6" fill="#111"/>
<text x="596.80" y="189.30" font-size="6.6" fill="#151515" >Isocit</text>
<circle cx="613.80" cy="187.40" r="0.6" fill="#111"/>
<circle cx="614.95" cy="187.40" r="0.6" fill="#111"/>
<circle cx="616.10" cy="187.40" r="0.6" fill="#111"/>
<circle cx="617.25" cy="187.40" r="0.6" fill="#111"/>
<circle cx="618.40" cy="187.40" r="0.6" fill="#111"/>
<circle cx="619.55" cy="187.40" r="0.6" fill="#111"/>
<text x="592.70" y="208.50" font-size="6.6" fill="#151515" >α-KG</text>
<circle cx="597.00" cy="211.70" r="0.9" fill="#111"/>
<circle cx="598.55" cy="211.70" r="0.9" fill="#111"/>
<circle cx="600.10" cy="211.70" r="0.9" fill="#111"/>
<circle cx="601.65" cy="211.70" r="0.9" fill="#111"/>
<circle cx="603.20" cy="211.70" r="0.9" fill="#111"/>
<text x="573.50" y="220.60" font-size="6.6" fill="#151515" >Succ</text>
<circle cx="577.50" cy="224.00" r="0.9" fill="#111"/>
<circle cx="579.05" cy="224.00" r="0.9" fill="#111"/>
<circle cx="580.60" cy="224.00" r="0.9" fill="#111"/>
<circle cx="582.15" cy="224.00" r="0.9" fill="#111"/>
<text x="556.00" y="208.50" font-size="6.6" fill="#151515" >Fum</text>
<circle cx="558.50" cy="211.70" r="0.9" fill="#111"/>
<circle cx="560.05" cy="211.70" r="0.9" fill="#111"/>
<circle cx="561.60" cy="211.70" r="0.9" fill="#111"/>
<circle cx="563.15" cy="211.70" r="0.9" fill="#111"/>
<text x="550.00" y="190.70" font-size="6.6" fill="#151515" >Mal</text>
<circle cx="544.20" cy="193.60" r="0.9" fill="#111"/>
<circle cx="545.75" cy="193.60" r="0.9" fill="#111"/>
<circle cx="547.30" cy="193.60" r="0.9" fill="#111"/>
<circle cx="548.85" cy="193.60" r="0.9" fill="#111"/>
<text x="523.00" y="190.90" font-size="6.6" fill="#151515" >Pyr</text>
<circle cx="525.20" cy="194.00" r="0.9" fill="#111"/>
<circle cx="526.75" cy="194.00" r="0.9" fill="#111"/>
<circle cx="528.30" cy="194.00" r="0.9" fill="#111"/>
<text x="580.50" y="187.80" font-size="6.4" text-anchor="middle" font-weight="bold" font-style="italic" fill="#151515" >TCA</text>
<text x="580.50" y="195.80" font-size="6.4" text-anchor="middle" font-weight="bold" font-style="italic" fill="#151515" >Cycle</text>
<path d="M572.12,167.48 A24.5,24.5 0 0 1 592.00,168.87" fill="none" stroke="#e8843c" stroke-width="2.1"/>
<path d="M573.83,168.70 A22.8,22.8 0 0 1 590.14,169.84" fill="none" stroke="#3557b0" stroke-width="0.6"/>
<path d="M597.82,173.18 A24.5,24.5 0 0 1 604.46,185.41" fill="none" stroke="#e8843c" stroke-width="2.1"/>
<path d="M597.44,175.24 A22.8,22.8 0 0 1 602.52,184.60" fill="none" stroke="#3557b0" stroke-width="0.6"/>
<path d="M604.76,193.91 A24.5,24.5 0 0 1 601.28,203.48" fill="none" stroke="#e8843c" stroke-width="2.1"/>
<path d="M602.88,194.85 A22.8,22.8 0 0 1 600.44,201.55" fill="none" stroke="#3557b0" stroke-width="0.6"/>
<path d="M596.25,209.27 A24.5,24.5 0 0 1 585.59,214.46" fill="none" stroke="#e8843c" stroke-width="2.1"/>
<path d="M594.22,208.71 A22.8,22.8 0 0 1 586.40,212.52" fill="none" stroke="#3557b0" stroke-width="0.6"/>
<path d="M575.41,214.46 A24.5,24.5 0 0 1 565.42,209.81" fill="none" stroke="#e8843c" stroke-width="2.1"/>
<path d="M574.60,212.52 A22.8,22.8 0 0 1 567.42,209.18" fill="none" stroke="#3557b0" stroke-width="0.6"/>
<path d="M559.28,202.75 A24.5,24.5 0 0 1 556.37,194.75" fill="none" stroke="#e8843c" stroke-width="2.1"/>
<path d="M560.19,200.85 A22.8,22.8 0 0 1 558.28,195.63" fill="none" stroke="#3557b0" stroke-width="0.6"/>
<path d="M556.37,186.25 A24.5,24.5 0 0 1 561.19,175.42" fill="none" stroke="#e8843c" stroke-width="2.1"/>
<path d="M558.28,185.37 A22.8,22.8 0 0 1 561.82,177.42" fill="none" stroke="#3557b0" stroke-width="0.6"/>
<rect x="518.00" y="177.80" width="8.20" height="6.80" rx="1" fill="#e8843c"/>
<text x="522.10" y="182.82" font-size="4.5" text-anchor="middle" fill="#fff" >PC</text>
<rect x="536.50" y="179.70" width="8.50" height="6.80" rx="1" fill="#e8843c"/>
<text x="540.75" y="184.72" font-size="4.5" text-anchor="middle" fill="#fff" >ME</text>
<rect x="545.40" y="198.60" width="7.80" height="6.80" rx="1" fill="#e8843c"/>
<text x="549.30" y="203.62" font-size="4.5" text-anchor="middle" fill="#fff" >FH</text>
<rect x="560.00" y="214.90" width="10.80" height="6.70" rx="1" fill="#e8843c"/>
<text x="565.40" y="219.87" font-size="4.5" text-anchor="middle" fill="#fff" >SDH</text>
<rect x="590.50" y="214.90" width="14.40" height="6.70" rx="1" fill="#e8843c"/>
<text x="597.70" y="219.87" font-size="4.5" text-anchor="middle" fill="#fff" >OGDH</text>
<rect x="610.30" y="197.30" width="10.50" height="6.30" rx="1" fill="#e8843c"/>
<text x="615.55" y="202.07" font-size="4.5" text-anchor="middle" fill="#fff" >GDH</text>
<rect x="635.00" y="197.30" width="10.40" height="6.30" rx="1" fill="#e8843c"/>
<text x="640.20" y="202.07" font-size="4.5" text-anchor="middle" fill="#fff" >GLS</text>
<rect x="659.50" y="197.30" width="14.80" height="6.30" rx="1" fill="#e8843c"/>
<text x="666.90" y="202.07" font-size="4.5" text-anchor="middle" fill="#fff" >ACST2</text>
<text x="623.00" y="208.50" font-size="6.6" fill="#151515" >Glu</text>
<circle cx="624.20" cy="211.70" r="0.9" fill="#111"/>
<circle cx="625.75" cy="211.70" r="0.9" fill="#111"/>
<circle cx="627.30" cy="211.70" r="0.9" fill="#111"/>
<circle cx="628.85" cy="211.70" r="0.9" fill="#111"/>
<circle cx="630.40" cy="211.70" r="0.9" fill="#111"/>
<text x="649.00" y="208.50" font-size="6.6" fill="#151515" >Gln</text>
<circle cx="650.20" cy="211.70" r="0.9" fill="#111"/>
<circle cx="651.75" cy="211.70" r="0.9" fill="#111"/>
<circle cx="653.30" cy="211.70" r="0.9" fill="#111"/>
<circle cx="654.85" cy="211.70" r="0.9" fill="#111"/>
<circle cx="656.40" cy="211.70" r="0.9" fill="#111"/>
<text x="675.00" y="208.50" font-size="6.6" fill="#151515" >Gln</text>
<circle cx="676.20" cy="211.70" r="0.9" fill="#111"/>
<circle cx="677.75" cy="211.70" r="0.9" fill="#111"/>
<circle cx="679.30" cy="211.70" r="0.9" fill="#111"/>
<circle cx="680.85" cy="211.70" r="0.9" fill="#111"/>
<circle cx="682.40" cy="211.70" r="0.9" fill="#111"/>
<line x1="621.00" y1="206.20" x2="612.90" y2="206.20" stroke="#e8843c" stroke-width="1.4" />
<polygon points="609.50,206.20 612.90,204.33 612.90,208.07" fill="#e8843c"/>
<line x1="646.50" y1="206.20" x2="638.40" y2="206.20" stroke="#e8843c" stroke-width="1.4" />
<polygon points="635.00,206.20 638.40,204.33 638.40,208.07" fill="#e8843c"/>
<line x1="672.00" y1="206.20" x2="664.70" y2="206.20" stroke="#e8843c" stroke-width="1.4" />
<polygon points="661.30,206.20 664.70,204.33 664.70,208.07" fill="#e8843c"/>
<line x1="548.50" y1="188.50" x2="537.80" y2="188.50" stroke="#e8843c" stroke-width="1.0" />
<polygon points="535.00,188.50 537.80,186.96 537.80,190.04" fill="#e8843c"/>
<polyline points="527.8,185 527.8,170.3 547,170.3" fill="none" stroke="#e8843c" stroke-width="0.8"/>
<line x1="545.00" y1="170.30" x2="547.90" y2="170.30" stroke="#e8843c" stroke-width="0.8" />
<polygon points="550.30,170.30 547.90,171.62 547.90,168.98" fill="#e8843c"/>
<text x="582.70" y="237.20" font-size="6.4" text-anchor="middle" fill="#151515" >Mitochondria</text>
<defs><filter id="bl" x="-20%" y="-50%" width="140%" height="200%"><feGaussianBlur stdDeviation="0.9 0.7"/></filter><filter id="bl1" x="-20%" y="-50%" width="140%" height="200%"><feGaussianBlur stdDeviation="1.2 1.1"/></filter><filter id="bl2" x="-20%" y="-50%" width="140%" height="200%"><feGaussianBlur stdDeviation="1.6 1.5"/></filter></defs>
<text x="46.20" y="273.50" font-size="13.1" font-weight="bold" fill="#111" >Cancer cells</text>
<text x="64.26" y="328.30" font-size="13.3" fill="#0d0d0d" transform="rotate(-90 64.26 328.30)" >KATO-III</text>
<text x="78.56" y="328.30" font-size="13.3" fill="#0d0d0d" transform="rotate(-90 78.56 328.30)" >MKN-45</text>
<text x="92.76" y="328.30" font-size="13.3" fill="#0d0d0d" transform="rotate(-90 92.76 328.30)" >MKN-1</text>
<text x="107.26" y="328.30" font-size="13.3" fill="#0d0d0d" transform="rotate(-90 107.26 328.30)" >HeLa</text>
<clipPath id="c1"><rect x="52.10" y="335.40" width="62.40" height="16.10"/></clipPath>
<rect x="52.10" y="335.40" width="62.40" height="16.10" fill="#cdcdcd" />
<g clip-path="url(#c1)"><g filter="url(#bl)">
<rect x="56.25" y="336.75" width="12.50" height="10.50" rx="2.50" fill="#0a0a0a" opacity="0.6" filter="url(#bl2)"/>
<rect x="72.30" y="336.50" width="10.00" height="13.00" rx="2.50" fill="#0a0a0a" opacity="0.2" filter="url(#bl2)"/>
<rect x="52.00" y="335.50" width="62.00" height="16.00" rx="2.50" fill="#0a0a0a" opacity="0.1" filter="url(#bl2)"/>
<rect x="85.55" y="336.70" width="13.50" height="13.00" rx="2.50" fill="#0a0a0a" opacity="0.96" filter="url(#bl1)"/>
<rect x="100.00" y="336.85" width="13.00" height="11.50" rx="2.50" fill="#0a0a0a" opacity="0.93" filter="url(#bl1)"/>
<rect x="101.50" y="345.50" width="11.00" height="4.00" rx="1.68" fill="#0a0a0a" opacity="0.5" filter="url(#bl2)"/>
<rect x="95.00" y="338.00" width="10.00" height="10.00" rx="2.50" fill="#0a0a0a" opacity="0.5" filter="url(#bl2)"/>
</g></g>
<rect x="52.10" y="335.40" width="62.40" height="16.10" fill="none" stroke="#9a9a9a" stroke-width="0.7" />
<text x="120.00" y="348.70" font-size="13.3" fill="#111" >ASCT2</text>
<clipPath id="c2"><rect x="52.10" y="355.50" width="62.40" height="15.80"/></clipPath>
<rect x="52.10" y="355.50" width="62.40" height="15.80" fill="#efefef" />
<g clip-path="url(#c2)"><g filter="url(#bl)">
<rect x="56.84" y="361.50" width="12.32" height="3.60" rx="1.51" fill="#0a0a0a" opacity="0.97"/>
<rect x="71.14" y="361.80" width="12.32" height="3.20" rx="1.34" fill="#0a0a0a" opacity="0.93"/>
<rect x="87.32" y="361.90" width="10.56" height="2.60" rx="1.09" fill="#0a0a0a" opacity="0.88"/>
<rect x="103.48" y="362.60" width="7.04" height="1.60" rx="0.67" fill="#0a0a0a" opacity="0.6"/>
</g></g>
<rect x="52.10" y="355.50" width="62.40" height="15.80" fill="none" stroke="#9a9a9a" stroke-width="0.7" />
<text x="120.00" y="368.80" font-size="13.3" fill="#111" >GLS1</text>
<clipPath id="c3"><rect x="52.10" y="375.50" width="62.40" height="15.80"/></clipPath>
<rect x="52.10" y="375.50" width="62.40" height="15.80" fill="#efefef" />
<g clip-path="url(#c3)"><g filter="url(#bl)">
<rect x="58.48" y="381.50" width="7.04" height="3.00" rx="1.26" fill="#0a0a0a" opacity="0.15"/>
<rect x="70.70" y="381.20" width="13.20" height="5.00" rx="2.10" fill="#0a0a0a" opacity="0.97"/>
<rect x="87.32" y="382.00" width="10.56" height="2.80" rx="1.18" fill="#0a0a0a" opacity="0.85"/>
<rect x="100.84" y="381.60" width="12.32" height="3.80" rx="1.60" fill="#0a0a0a" opacity="0.93"/>
</g></g>
<rect x="52.10" y="375.50" width="62.40" height="15.80" fill="none" stroke="#9a9a9a" stroke-width="0.7" />
<text x="120.00" y="388.80" font-size="13.3" fill="#111" >FH</text>
<clipPath id="c4"><rect x="52.10" y="395.50" width="62.40" height="15.80"/></clipPath>
<rect x="52.10" y="395.50" width="62.40" height="15.80" fill="#e6e6e6" />
<g clip-path="url(#c4)"><g filter="url(#bl)">
<rect x="56.84" y="399.50" width="12.32" height="2.20" rx="0.92" fill="#0a0a0a" opacity="0.85"/>
<rect x="57.28" y="404.20" width="11.44" height="2.20" rx="0.92" fill="#0a0a0a" opacity="0.8"/>
<rect x="70.70" y="398.80" width="13.20" height="3.60" rx="1.51" fill="#0a0a0a" opacity="0.97"/>
<rect x="70.70" y="403.50" width="13.20" height="4.20" rx="1.76" fill="#0a0a0a" opacity="0.97"/>
<rect x="87.32" y="399.30" width="10.56" height="2.00" rx="0.84" fill="#0a0a0a" opacity="0.8"/>
<rect x="88.20" y="404.75" width="8.80" height="1.50" rx="0.63" fill="#0a0a0a" opacity="0.12"/>
<rect x="101.72" y="399.40" width="10.56" height="2.40" rx="1.01" fill="#0a0a0a" opacity="0.85"/>
<rect x="102.60" y="404.80" width="8.80" height="1.60" rx="0.67" fill="#0a0a0a" opacity="0.3"/>
</g></g>
<rect x="52.10" y="395.50" width="62.40" height="15.80" fill="none" stroke="#9a9a9a" stroke-width="0.7" />
<text x="120.00" y="408.80" font-size="13.3" fill="#111" >MDH1</text>
<clipPath id="c5"><rect x="52.10" y="415.10" width="62.40" height="15.70"/></clipPath>
<rect x="52.10" y="415.10" width="62.40" height="15.70" fill="#eaeaea" />
<g clip-path="url(#c5)"><g filter="url(#bl)">
<rect x="56.40" y="420.70" width="13.20" height="3.80" rx="1.60" fill="#0a0a0a" opacity="0.97"/>
<rect x="70.70" y="420.90" width="13.20" height="4.20" rx="1.76" fill="#0a0a0a" opacity="0.97"/>
<rect x="87.76" y="421.80" width="9.68" height="2.00" rx="0.84" fill="#0a0a0a" opacity="0.6"/>
<rect x="101.72" y="420.85" width="10.56" height="2.70" rx="1.13" fill="#0a0a0a" opacity="0.82"/>
</g></g>
<rect x="52.10" y="415.10" width="62.40" height="15.70" fill="none" stroke="#9a9a9a" stroke-width="0.7" />
<text x="120.00" y="428.40" font-size="13.3" fill="#111" >MDH2</text>
<clipPath id="c6"><rect x="52.10" y="435.00" width="62.40" height="15.80"/></clipPath>
<rect x="52.10" y="435.00" width="62.40" height="15.80" fill="#e6e6e6" />
<g clip-path="url(#c6)"><g filter="url(#bl)">
<rect x="54.58" y="439.30" width="13.64" height="6.20" rx="2.50" fill="#0a0a0a" opacity="0.99"/>
<rect x="69.94" y="440.50" width="12.32" height="4.60" rx="1.93" fill="#0a0a0a" opacity="0.96"/>
<rect x="86.20" y="442.10" width="8.80" height="2.40" rx="1.01" fill="#0a0a0a" opacity="0.25"/>
<rect x="101.02" y="440.90" width="10.56" height="3.40" rx="1.43" fill="#0a0a0a" opacity="0.72"/>
<rect x="107.10" y="441.10" width="4.40" height="3.00" rx="1.26" fill="#0a0a0a" opacity="0.4"/>
</g></g>
<rect x="52.10" y="435.00" width="62.40" height="15.80" fill="none" stroke="#9a9a9a" stroke-width="0.7" />
<text x="120.00" y="448.30" font-size="13.3" fill="#111" >PCK1</text>
<clipPath id="c7"><rect x="52.10" y="455.00" width="62.40" height="15.80"/></clipPath>
<rect x="52.10" y="455.00" width="62.40" height="15.80" fill="#c6c6c6" />
<g clip-path="url(#c7)"><g filter="url(#bl)">
<rect x="54.36" y="458.70" width="14.08" height="7.00" rx="2.50" fill="#0a0a0a" opacity="1"/>
<rect x="69.94" y="460.00" width="12.32" height="4.80" rx="2.02" fill="#0a0a0a" opacity="0.97"/>
<rect x="86.20" y="461.60" width="8.80" height="2.40" rx="1.01" fill="#0a0a0a" opacity="0.42"/>
<rect x="102.34" y="461.70" width="7.92" height="1.80" rx="0.76" fill="#0a0a0a" opacity="0.14"/>
</g></g>
<rect x="52.10" y="455.00" width="62.40" height="15.80" fill="none" stroke="#9a9a9a" stroke-width="0.7" />
<text x="120.00" y="468.30" font-size="13.3" fill="#111" >PCK2</text>
<clipPath id="c8"><rect x="52.10" y="475.00" width="62.40" height="15.80"/></clipPath>
<rect x="52.10" y="475.00" width="62.40" height="15.80" fill="#e3e3e3" />
<g clip-path="url(#c8)"><g filter="url(#bl)">
<rect x="54.58" y="479.20" width="13.64" height="6.40" rx="2.50" fill="#0a0a0a" opacity="1"/>
<rect x="57.00" y="476.50" width="8.80" height="3.00" rx="1.26" fill="#0a0a0a" opacity="0.25"/>
<rect x="71.14" y="476.00" width="7.92" height="1.20" rx="0.50" fill="#0a0a0a" opacity="0.7"/>
<rect x="67.90" y="477.50" width="4.40" height="1.00" rx="0.42" fill="#0a0a0a" opacity="0.4"/>
</g></g>
<rect x="52.10" y="475.00" width="62.40" height="15.80" fill="none" stroke="#9a9a9a" stroke-width="0.7" />
<text x="120.00" y="488.30" font-size="13.3" fill="#111" >FBP1</text>
<clipPath id="c9"><rect x="52.10" y="495.00" width="62.40" height="15.60"/></clipPath>
<rect x="52.10" y="495.00" width="62.40" height="15.60" fill="#d4d4d4" />
<g clip-path="url(#c9)"><g filter="url(#bl)">
<rect x="54.58" y="499.30" width="13.64" height="5.00" rx="2.10" fill="#0a0a0a" opacity="0.98"/>
<rect x="69.94" y="499.70" width="12.32" height="4.60" rx="1.93" fill="#0a0a0a" opacity="0.96"/>
<rect x="86.20" y="500.80" width="8.80" height="2.40" rx="1.01" fill="#0a0a0a" opacity="0.4"/>
<rect x="101.46" y="501.30" width="9.68" height="2.00" rx="0.84" fill="#0a0a0a" opacity="0.2"/>
</g></g>
<rect x="52.10" y="495.00" width="62.40" height="15.60" fill="none" stroke="#9a9a9a" stroke-width="0.7" />
<text x="120.00" y="508.30" font-size="13.3" fill="#111" >G6Pase</text>
<clipPath id="c10"><rect x="52.10" y="514.60" width="62.40" height="15.40"/></clipPath>
<rect x="52.10" y="514.60" width="62.40" height="15.40" fill="#d4d4d4" />
<g clip-path="url(#c10)"><g filter="url(#bl)">
<rect x="55.80" y="521.50" width="13.20" height="3.40" rx="1.43" fill="#0a0a0a" opacity="0.97"/>
<rect x="69.50" y="521.90" width="13.20" height="3.40" rx="1.43" fill="#0a0a0a" opacity="0.97"/>
<rect x="84.00" y="521.70" width="13.20" height="3.20" rx="1.34" fill="#0a0a0a" opacity="0.97"/>
<rect x="99.14" y="520.90" width="12.32" height="3.40" rx="1.43" fill="#0a0a0a" opacity="0.97"/>
<rect x="58.00" y="522.20" width="52.00" height="2.00" rx="0.84" fill="#0a0a0a" opacity="0.95"/>
</g></g>
<rect x="52.10" y="514.60" width="62.40" height="15.40" fill="none" stroke="#9a9a9a" stroke-width="0.7" />
<text x="120.00" y="527.90" font-size="13.3" fill="#111" >Actin</text>
<text x="44.50" y="352.00" font-size="10" text-anchor="end" fill="#222" textLength="11.5" lengthAdjust="spacingAndGlyphs">55</text>
<line x1="48.10" y1="348.50" x2="50.90" y2="348.50" stroke="#222" stroke-width="0.9" />
<text x="44.50" y="366.60" font-size="10" text-anchor="end" fill="#222" textLength="11.5" lengthAdjust="spacingAndGlyphs">75</text>
<line x1="48.10" y1="361.30" x2="50.90" y2="361.30" stroke="#222" stroke-width="0.9" />
<text x="44.50" y="391.80" font-size="10" text-anchor="end" fill="#222" textLength="11.5" lengthAdjust="spacingAndGlyphs">43</text>
<line x1="48.10" y1="386.50" x2="50.90" y2="386.50" stroke="#222" stroke-width="0.9" />
<text x="44.50" y="414.30" font-size="10" text-anchor="end" fill="#222" textLength="11.5" lengthAdjust="spacingAndGlyphs">33</text>
<line x1="48.10" y1="409.20" x2="50.90" y2="409.20" stroke="#222" stroke-width="0.9" />
<text x="44.50" y="433.80" font-size="10" text-anchor="end" fill="#222" textLength="11.5" lengthAdjust="spacingAndGlyphs">33</text>
<line x1="48.10" y1="429.20" x2="50.90" y2="429.20" stroke="#222" stroke-width="0.9" />
<text x="44.50" y="443.50" font-size="10" text-anchor="end" fill="#222" textLength="11.5" lengthAdjust="spacingAndGlyphs">75</text>
<line x1="48.10" y1="438.30" x2="50.90" y2="438.30" stroke="#222" stroke-width="0.9" />
<text x="44.50" y="461.50" font-size="10" text-anchor="end" fill="#222" textLength="11.5" lengthAdjust="spacingAndGlyphs">75</text>
<line x1="48.10" y1="456.50" x2="50.90" y2="456.50" stroke="#222" stroke-width="0.9" />
<text x="44.50" y="483.60" font-size="10" text-anchor="end" fill="#222" textLength="11.5" lengthAdjust="spacingAndGlyphs">43</text>
<line x1="48.10" y1="480.00" x2="50.90" y2="480.00" stroke="#222" stroke-width="0.9" />
<text x="44.50" y="506.60" font-size="10" text-anchor="end" fill="#222" textLength="11.5" lengthAdjust="spacingAndGlyphs">33</text>
<line x1="48.10" y1="503.30" x2="50.90" y2="503.30" stroke="#222" stroke-width="0.9" />
<text x="44.50" y="526.60" font-size="10" text-anchor="end" fill="#222" textLength="11.5" lengthAdjust="spacingAndGlyphs">43</text>
<line x1="48.10" y1="522.80" x2="50.90" y2="522.80" stroke="#222" stroke-width="0.9" />
<text x="33.40" y="541.20" font-size="10" fill="#151515" >kDa</text>
<rect x="207.00" y="427.70" width="4.00" height="52.20" fill="#cfe3f8" />
<line x1="207.60" y1="427.70" x2="210.40" y2="427.70" stroke="#222" stroke-width="0.7" />
<rect x="211.95" y="449.62" width="4.00" height="30.28" fill="#65a4f7" />
<line x1="212.55" y1="449.62" x2="215.35" y2="449.62" stroke="#222" stroke-width="0.7" />
<rect x="216.90" y="460.06" width="4.00" height="19.84" fill="#f8dde0" />
<line x1="217.50" y1="460.06" x2="220.30" y2="460.06" stroke="#222" stroke-width="0.7" />
<rect x="221.85" y="445.19" width="4.00" height="34.71" fill="#f1757f" />
<line x1="222.45" y1="445.19" x2="225.25" y2="445.19" stroke="#222" stroke-width="0.7" />
<line x1="210.00" y1="395.80" x2="224.15" y2="395.80" stroke="#777" stroke-width="1.2" />
<text x="217.07" y="396.00" font-size="13.3" text-anchor="middle" fill="#0d0d0d" >****</text>
<line x1="215.45" y1="405.90" x2="223.35" y2="405.90" stroke="#777" stroke-width="1.2" />
<text x="219.40" y="407.60" font-size="13.3" text-anchor="middle" fill="#0d0d0d" >****</text>
<line x1="210.00" y1="415.40" x2="218.40" y2="415.40" stroke="#777" stroke-width="1.2" />
<text x="215.95" y="417.10" font-size="13.3" text-anchor="middle" fill="#0d0d0d" >****</text>
<line x1="214.95" y1="428.10" x2="218.40" y2="428.10" stroke="#777" stroke-width="1.2" />
<text x="217.40" y="429.10" font-size="13.3" text-anchor="middle" fill="#0d0d0d" >****</text>
<line x1="216.43" y1="479.90" x2="216.43" y2="482.90" stroke="#222" stroke-width="1" />
<text x="221.19" y="485.00" font-size="13.3" text-anchor="end" fill="#0d0d0d" transform="rotate(-90 221.19 485.00)" >ASCT2</text>
<rect x="230.42" y="427.70" width="4.00" height="52.20" fill="#cfe3f8" />
<line x1="231.02" y1="427.70" x2="233.82" y2="427.70" stroke="#222" stroke-width="0.7" />
<rect x="235.37" y="433.96" width="4.00" height="45.94" fill="#65a4f7" />
<line x1="235.97" y1="433.96" x2="238.77" y2="433.96" stroke="#222" stroke-width="0.7" />
<rect x="240.32" y="441.27" width="4.00" height="38.63" fill="#f8dde0" />
<line x1="240.92" y1="441.27" x2="243.72" y2="441.27" stroke="#222" stroke-width="0.7" />
<rect x="245.27" y="465.28" width="4.00" height="14.62" fill="#f1757f" />
<line x1="245.87" y1="465.28" x2="248.67" y2="465.28" stroke="#222" stroke-width="0.7" />
<line x1="233.42" y1="396.40" x2="247.57" y2="396.40" stroke="#777" stroke-width="1.2" />
<text x="240.50" y="396.60" font-size="13.3" text-anchor="middle" fill="#0d0d0d" >****</text>
<line x1="238.87" y1="406.30" x2="246.77" y2="406.30" stroke="#777" stroke-width="1.2" />
<text x="242.82" y="408.00" font-size="13.3" text-anchor="middle" fill="#0d0d0d" >****</text>
<line x1="233.42" y1="415.80" x2="241.82" y2="415.80" stroke="#777" stroke-width="1.2" />
<text x="239.37" y="417.50" font-size="13.3" text-anchor="middle" fill="#0d0d0d" >****</text>
<line x1="238.37" y1="429.60" x2="241.82" y2="429.60" stroke="#777" stroke-width="1.2" />
<text x="240.82" y="430.60" font-size="13.3" text-anchor="middle" fill="#0d0d0d" >****</text>
<line x1="239.85" y1="479.90" x2="239.85" y2="482.90" stroke="#222" stroke-width="1" />
<text x="244.61" y="485.00" font-size="13.3" text-anchor="end" fill="#0d0d0d" transform="rotate(-90 244.61 485.00)" >GLS1</text>
<rect x="253.84" y="427.70" width="4.00" height="52.20" fill="#cfe3f8" />
<line x1="254.44" y1="427.70" x2="257.24" y2="427.70" stroke="#222" stroke-width="0.7" />
<rect x="258.79" y="412.56" width="4.00" height="67.34" fill="#65a4f7" />
<line x1="259.39" y1="412.56" x2="262.19" y2="412.56" stroke="#222" stroke-width="0.7" />
<rect x="263.74" y="407.34" width="4.00" height="72.56" fill="#f8dde0" />
<line x1="264.34" y1="407.34" x2="267.14" y2="407.34" stroke="#222" stroke-width="0.7" />
<rect x="268.69" y="394.55" width="4.00" height="85.35" fill="#f1757f" />
<line x1="269.29" y1="394.55" x2="272.09" y2="394.55" stroke="#222" stroke-width="0.7" />
<line x1="256.84" y1="365.10" x2="270.99" y2="365.10" stroke="#777" stroke-width="1.2" />
<text x="263.92" y="365.30" font-size="13.3" text-anchor="middle" fill="#0d0d0d" >****</text>
<line x1="262.29" y1="376.10" x2="270.19" y2="376.10" stroke="#777" stroke-width="1.2" />
<text x="266.24" y="377.80" font-size="13.3" text-anchor="middle" fill="#0d0d0d" >****</text>
<line x1="256.84" y1="385.00" x2="265.24" y2="385.00" stroke="#777" stroke-width="1.2" />
<text x="262.79" y="386.70" font-size="13.3" text-anchor="middle" fill="#0d0d0d" >****</text>
<line x1="261.79" y1="397.40" x2="265.24" y2="397.40" stroke="#777" stroke-width="1.2" />
<text x="264.24" y="398.40" font-size="13.3" text-anchor="middle" fill="#0d0d0d" >****</text>
<line x1="263.26" y1="479.90" x2="263.26" y2="482.90" stroke="#222" stroke-width="1" />
<text x="268.03" y="485.00" font-size="13.3" text-anchor="end" fill="#0d0d0d" transform="rotate(-90 268.03 485.00)" >FH</text>
<rect x="277.26" y="427.70" width="4.00" height="52.20" fill="#cfe3f8" />
<line x1="277.86" y1="427.70" x2="280.66" y2="427.70" stroke="#222" stroke-width="0.7" />
<rect x="282.21" y="425.09" width="4.00" height="54.81" fill="#65a4f7" />
<line x1="282.81" y1="425.09" x2="285.61" y2="425.09" stroke="#222" stroke-width="0.7" />
<rect x="287.16" y="432.14" width="4.00" height="47.76" fill="#f8dde0" />
<line x1="287.76" y1="432.14" x2="290.56" y2="432.14" stroke="#222" stroke-width="0.7" />
<rect x="292.11" y="439.44" width="4.00" height="40.46" fill="#f1757f" />
<line x1="292.71" y1="439.44" x2="295.51" y2="439.44" stroke="#222" stroke-width="0.7" />
<line x1="280.26" y1="388.80" x2="294.41" y2="388.80" stroke="#777" stroke-width="1.2" />
<text x="287.34" y="389.00" font-size="13.3" text-anchor="middle" fill="#0d0d0d" >****</text>
<line x1="285.71" y1="399.30" x2="293.61" y2="399.30" stroke="#777" stroke-width="1.2" />
<text x="289.66" y="401.00" font-size="13.3" text-anchor="middle" fill="#0d0d0d" >****</text>
<line x1="280.26" y1="408.40" x2="288.66" y2="408.40" stroke="#777" stroke-width="1.2" />
<text x="286.21" y="410.10" font-size="13.3" text-anchor="middle" fill="#0d0d0d" >****</text>
<line x1="285.21" y1="421.10" x2="288.66" y2="421.10" stroke="#777" stroke-width="1.2" />
<text x="287.66" y="422.10" font-size="13.3" text-anchor="middle" fill="#0d0d0d" >****</text>
<line x1="286.69" y1="479.90" x2="286.69" y2="482.90" stroke="#222" stroke-width="1" />
<text x="291.45" y="485.00" font-size="13.3" text-anchor="end" fill="#0d0d0d" transform="rotate(-90 291.45 485.00)" >MDH1</text>
<rect x="300.68" y="427.70" width="4.00" height="52.20" fill="#cfe3f8" />
<line x1="301.28" y1="427.70" x2="304.08" y2="427.70" stroke="#222" stroke-width="0.7" />
<rect x="305.63" y="433.44" width="4.00" height="46.46" fill="#65a4f7" />
<line x1="306.23" y1="433.44" x2="309.03" y2="433.44" stroke="#222" stroke-width="0.7" />
<rect x="310.58" y="447.01" width="4.00" height="32.89" fill="#f8dde0" />
<line x1="311.18" y1="447.01" x2="313.98" y2="447.01" stroke="#222" stroke-width="0.7" />
<rect x="315.53" y="452.23" width="4.00" height="27.67" fill="#f1757f" />
<line x1="316.13" y1="452.23" x2="318.93" y2="452.23" stroke="#222" stroke-width="0.7" />
<line x1="303.68" y1="388.80" x2="317.83" y2="388.80" stroke="#777" stroke-width="1.2" />
<text x="310.75" y="389.00" font-size="13.3" text-anchor="middle" fill="#0d0d0d" >****</text>
<line x1="309.13" y1="399.60" x2="317.03" y2="399.60" stroke="#777" stroke-width="1.2" />
<text x="313.08" y="401.30" font-size="13.3" text-anchor="middle" fill="#0d0d0d" >****</text>
<line x1="303.68" y1="408.40" x2="312.08" y2="408.40" stroke="#777" stroke-width="1.2" />
<text x="309.63" y="410.10" font-size="13.3" text-anchor="middle" fill="#0d0d0d" >****</text>
<line x1="308.63" y1="421.50" x2="312.08" y2="421.50" stroke="#777" stroke-width="1.2" />
<text x="311.08" y="422.50" font-size="13.3" text-anchor="middle" fill="#0d0d0d" >****</text>
<line x1="310.11" y1="479.90" x2="310.11" y2="482.90" stroke="#222" stroke-width="1" />
<text x="314.87" y="485.00" font-size="13.3" text-anchor="end" fill="#0d0d0d" transform="rotate(-90 314.87 485.00)" >MDH2</text>
<rect x="324.10" y="427.70" width="4.00" height="52.20" fill="#cfe3f8" />
<line x1="324.70" y1="427.70" x2="327.50" y2="427.70" stroke="#222" stroke-width="0.7" />
<rect x="329.05" y="437.10" width="4.00" height="42.80" fill="#65a4f7" />
<line x1="329.65" y1="437.10" x2="332.45" y2="437.10" stroke="#222" stroke-width="0.7" />
<rect x="334.00" y="459.54" width="4.00" height="20.36" fill="#f8dde0" />
<line x1="334.60" y1="459.54" x2="337.40" y2="459.54" stroke="#222" stroke-width="0.7" />
<rect x="338.95" y="468.94" width="4.00" height="10.96" fill="#f1757f" />
<line x1="339.55" y1="468.94" x2="342.35" y2="468.94" stroke="#222" stroke-width="0.7" />
<line x1="327.10" y1="397.40" x2="341.25" y2="397.40" stroke="#777" stroke-width="1.2" />
<text x="334.18" y="397.60" font-size="13.3" text-anchor="middle" fill="#0d0d0d" >****</text>
<line x1="332.55" y1="408.20" x2="340.45" y2="408.20" stroke="#777" stroke-width="1.2" />
<text x="336.50" y="409.90" font-size="13.3" text-anchor="middle" fill="#0d0d0d" >****</text>
<line x1="327.10" y1="417.70" x2="335.50" y2="417.70" stroke="#777" stroke-width="1.2" />
<text x="333.05" y="419.40" font-size="13.3" text-anchor="middle" fill="#0d0d0d" >****</text>
<line x1="332.05" y1="429.60" x2="335.50" y2="429.60" stroke="#777" stroke-width="1.2" />
<text x="334.50" y="430.60" font-size="13.3" text-anchor="middle" fill="#0d0d0d" >****</text>
<line x1="333.53" y1="479.90" x2="333.53" y2="482.90" stroke="#222" stroke-width="1" />
<text x="338.29" y="485.00" font-size="13.3" text-anchor="end" fill="#0d0d0d" transform="rotate(-90 338.29 485.00)" >PCK1</text>
<rect x="347.52" y="427.70" width="4.00" height="52.20" fill="#cfe3f8" />
<line x1="348.12" y1="427.70" x2="350.92" y2="427.70" stroke="#222" stroke-width="0.7" />
<rect x="352.47" y="433.18" width="4.00" height="46.72" fill="#65a4f7" />
<line x1="353.07" y1="433.18" x2="355.87" y2="433.18" stroke="#222" stroke-width="0.7" />
<rect x="357.42" y="463.72" width="4.00" height="16.18" fill="#f8dde0" />
<line x1="358.02" y1="463.72" x2="360.82" y2="463.72" stroke="#222" stroke-width="0.7" />
<rect x="362.37" y="467.11" width="4.00" height="12.79" fill="#f1757f" />
<line x1="362.97" y1="467.11" x2="365.77" y2="467.11" stroke="#222" stroke-width="0.7" />
<line x1="350.52" y1="396.40" x2="364.67" y2="396.40" stroke="#777" stroke-width="1.2" />
<text x="357.60" y="396.60" font-size="13.3" text-anchor="middle" fill="#0d0d0d" >****</text>
<line x1="355.97" y1="407.20" x2="363.87" y2="407.20" stroke="#777" stroke-width="1.2" />
<text x="359.92" y="408.90" font-size="13.3" text-anchor="middle" fill="#0d0d0d" >****</text>
<line x1="350.52" y1="416.30" x2="358.92" y2="416.30" stroke="#777" stroke-width="1.2" />
<text x="356.47" y="418.00" font-size="13.3" text-anchor="middle" fill="#0d0d0d" >****</text>
<line x1="355.47" y1="428.70" x2="358.92" y2="428.70" stroke="#777" stroke-width="1.2" />
<text x="357.92" y="429.70" font-size="13.3" text-anchor="middle" fill="#0d0d0d" >****</text>
<line x1="356.94" y1="479.90" x2="356.94" y2="482.90" stroke="#222" stroke-width="1" />
<text x="361.71" y="485.00" font-size="13.3" text-anchor="end" fill="#0d0d0d" transform="rotate(-90 361.71 485.00)" >PCK2</text>
<rect x="370.94" y="427.70" width="4.00" height="52.20" fill="#cfe3f8" />
<line x1="371.54" y1="427.70" x2="374.34" y2="427.70" stroke="#222" stroke-width="0.7" />
<rect x="375.89" y="478.33" width="4.00" height="1.57" fill="#65a4f7" />
<line x1="377.89" y1="476.25" x2="377.89" y2="480.42" stroke="#222" stroke-width="0.6" />
<line x1="376.79" y1="476.25" x2="378.99" y2="476.25" stroke="#222" stroke-width="0.6" />
<line x1="376.79" y1="480.42" x2="378.99" y2="480.42" stroke="#222" stroke-width="0.6" />
<rect x="380.84" y="479.27" width="4.00" height="0.63" fill="#f8dde0" />
<line x1="382.84" y1="477.71" x2="382.84" y2="480.84" stroke="#222" stroke-width="0.6" />
<line x1="381.74" y1="477.71" x2="383.94" y2="477.71" stroke="#222" stroke-width="0.6" />
<line x1="381.74" y1="480.84" x2="383.94" y2="480.84" stroke="#222" stroke-width="0.6" />
<rect x="385.79" y="476.25" width="4.00" height="3.65" fill="#f1757f" />
<line x1="387.79" y1="472.07" x2="387.79" y2="480.42" stroke="#222" stroke-width="0.6" />
<line x1="386.69" y1="472.07" x2="388.89" y2="472.07" stroke="#222" stroke-width="0.6" />
<line x1="386.69" y1="480.42" x2="388.89" y2="480.42" stroke="#222" stroke-width="0.6" />
<line x1="373.94" y1="392.00" x2="388.09" y2="392.00" stroke="#777" stroke-width="1.2" />
<text x="381.01" y="392.20" font-size="13.3" text-anchor="middle" fill="#0d0d0d" >****</text>
<line x1="379.39" y1="402.50" x2="387.29" y2="402.50" stroke="#777" stroke-width="1.2" />
<text x="383.34" y="404.20" font-size="13.3" text-anchor="middle" fill="#0d0d0d" >*</text>
<line x1="373.94" y1="412.00" x2="382.34" y2="412.00" stroke="#777" stroke-width="1.2" />
<text x="379.89" y="413.70" font-size="13.3" text-anchor="middle" fill="#0d0d0d" >****</text>
<line x1="378.89" y1="423.90" x2="382.34" y2="423.90" stroke="#777" stroke-width="1.2" />
<text x="381.84" y="420.70" font-size="13.3" text-anchor="middle" fill="#0d0d0d" >ns</text>
<line x1="380.37" y1="479.90" x2="380.37" y2="482.90" stroke="#222" stroke-width="1" />
<text x="385.13" y="485.00" font-size="13.3" text-anchor="end" fill="#0d0d0d" transform="rotate(-90 385.13 485.00)" >FBP1</text>
<rect x="394.36" y="427.70" width="4.00" height="52.20" fill="#cfe3f8" />
<line x1="396.36" y1="422.48" x2="396.36" y2="432.92" stroke="#222" stroke-width="0.6" />
<line x1="395.26" y1="422.48" x2="397.46" y2="422.48" stroke="#222" stroke-width="0.6" />
<line x1="395.26" y1="432.92" x2="397.46" y2="432.92" stroke="#222" stroke-width="0.6" />
<rect x="399.31" y="451.19" width="4.00" height="28.71" fill="#65a4f7" />
<line x1="401.31" y1="448.06" x2="401.31" y2="454.32" stroke="#222" stroke-width="0.6" />
<line x1="400.21" y1="448.06" x2="402.41" y2="448.06" stroke="#222" stroke-width="0.6" />
<line x1="400.21" y1="454.32" x2="402.41" y2="454.32" stroke="#222" stroke-width="0.6" />
<rect x="404.26" y="473.11" width="4.00" height="6.79" fill="#f8dde0" />
<line x1="404.86" y1="473.11" x2="407.66" y2="473.11" stroke="#222" stroke-width="0.7" />
<rect x="409.21" y="472.59" width="4.00" height="7.31" fill="#f1757f" />
<line x1="409.81" y1="472.59" x2="412.61" y2="472.59" stroke="#222" stroke-width="0.7" />
<line x1="397.36" y1="392.00" x2="411.51" y2="392.00" stroke="#777" stroke-width="1.2" />
<text x="404.44" y="392.20" font-size="13.3" text-anchor="middle" fill="#0d0d0d" >****</text>
<line x1="402.81" y1="403.00" x2="410.71" y2="403.00" stroke="#777" stroke-width="1.2" />
<text x="406.76" y="404.70" font-size="13.3" text-anchor="middle" fill="#0d0d0d" >****</text>
<line x1="397.36" y1="412.00" x2="405.76" y2="412.00" stroke="#777" stroke-width="1.2" />
<text x="403.31" y="413.70" font-size="13.3" text-anchor="middle" fill="#0d0d0d" >****</text>
<line x1="402.31" y1="424.30" x2="405.76" y2="424.30" stroke="#777" stroke-width="1.2" />
<text x="404.76" y="425.30" font-size="13.3" text-anchor="middle" fill="#0d0d0d" >****</text>
<line x1="403.79" y1="479.90" x2="403.79" y2="482.90" stroke="#222" stroke-width="1" />
<text x="408.55" y="485.00" font-size="13.3" text-anchor="end" fill="#0d0d0d" transform="rotate(-90 408.55 485.00)" >G6Pase</text>
<line x1="205.60" y1="375.00" x2="205.60" y2="480.40" stroke="#222" stroke-width="1" />
<line x1="205.10" y1="479.90" x2="416.00" y2="479.90" stroke="#222" stroke-width="1" />
<line x1="202.60" y1="479.90" x2="205.60" y2="479.90" stroke="#222" stroke-width="1" />
<text x="202.20" y="484.50" font-size="13" text-anchor="end" fill="#0d0d0d" >0</text>
<line x1="202.60" y1="453.80" x2="205.60" y2="453.80" stroke="#222" stroke-width="1" />
<text x="202.20" y="458.40" font-size="13" text-anchor="end" fill="#0d0d0d" >0.5</text>
<line x1="202.60" y1="427.70" x2="205.60" y2="427.70" stroke="#222" stroke-width="1" />
<text x="202.20" y="432.30" font-size="13" text-anchor="end" fill="#0d0d0d" >1.0</text>
<line x1="202.60" y1="401.60" x2="205.60" y2="401.60" stroke="#222" stroke-width="1" />
<text x="202.20" y="406.20" font-size="13" text-anchor="end" fill="#0d0d0d" >1.5</text>
<line x1="202.60" y1="375.50" x2="205.60" y2="375.50" stroke="#222" stroke-width="1" />
<text x="202.20" y="380.10" font-size="13" text-anchor="end" fill="#0d0d0d" >2.0</text>
<text x="180.20" y="424.80" font-size="13.3" text-anchor="middle" fill="#0d0d0d" transform="rotate(-90 180.20 424.80)" >Relative Protein Level (A.U.)</text>
<rect x="201.40" y="345.60" width="6.30" height="2.90" fill="#cfe3f8" />
<text x="212.20" y="351.00" font-size="13.3" fill="#0d0d0d" >KATO-III</text>
<rect x="268.70" y="345.60" width="6.30" height="2.90" fill="#65a4f7" />
<text x="278.60" y="351.00" font-size="13.3" fill="#0d0d0d" >MKN-45</text>
<rect x="327.50" y="345.60" width="6.30" height="2.90" fill="#f8dde0" />
<text x="336.40" y="351.00" font-size="13.3" fill="#0d0d0d" >MKN-1</text>
<rect x="381.20" y="345.60" width="6.30" height="2.90" fill="#f1757f" />
<text x="391.70" y="351.00" font-size="13.3" fill="#0d0d0d" >HeLa</text>
<text x="41.40" y="576.80" font-size="13.1" font-weight="bold" fill="#111" >Cancer tissues</text>
<text x="35.00" y="597.60" font-size="13.05" fill="#0d0d0d" >18F-FDG-PET/CT</text>
<text x="39.50" y="611.40" font-size="13.05" fill="#0d0d0d" >Negative</text>
<text x="92.00" y="611.40" font-size="13.05" fill="#0d0d0d" >Positive</text>
<line x1="44.50" y1="614.90" x2="131.30" y2="614.90" stroke="#222" stroke-width="0.8" />
<text x="-0.30" y="630.20" font-size="13.05" fill="#0d0d0d" >Patient</text>
<text x="48.75" y="630.20" font-size="13.05" text-anchor="middle" fill="#0d0d0d" >1</text>
<text x="65.00" y="630.20" font-size="13.05" text-anchor="middle" fill="#0d0d0d" >2</text>
<text x="81.25" y="630.20" font-size="13.05" text-anchor="middle" fill="#0d0d0d" >3</text>
<text x="98.00" y="630.20" font-size="13.05" text-anchor="middle" fill="#0d0d0d" >4</text>
<text x="111.75" y="630.20" font-size="13.05" text-anchor="middle" fill="#0d0d0d" >5</text>
<text x="125.00" y="630.20" font-size="13.05" text-anchor="middle" fill="#0d0d0d" >6</text>
<clipPath id="c11"><rect x="40.80" y="634.30" width="91.70" height="15.70"/></clipPath>
<rect x="40.80" y="634.30" width="91.70" height="15.70" fill="#c9c9c9" />
<g clip-path="url(#c11)"><g filter="url(#bl)">
<rect x="74.00" y="633.00" width="60.00" height="10.00" rx="2.50" fill="#0a0a0a" opacity="0.45" filter="url(#bl2)"/>
<rect x="118.00" y="633.00" width="16.00" height="8.00" rx="2.50" fill="#0a0a0a" opacity="0.4" filter="url(#bl2)"/>
<rect x="38.50" y="645.50" width="95.00" height="5.00" rx="2.10" fill="#0a0a0a" opacity="0.12" filter="url(#bl2)"/>
<rect x="44.60" y="639.10" width="10.00" height="3.40" rx="1.43" fill="#0a0a0a" opacity="0.45"/>
<rect x="59.80" y="638.90" width="11.00" height="3.80" rx="1.60" fill="#0a0a0a" opacity="0.55"/>
<rect x="74.40" y="637.10" width="14.00" height="6.40" rx="2.50" fill="#0a0a0a" opacity="0.97"/>
<rect x="90.75" y="637.00" width="12.50" height="6.00" rx="2.50" fill="#0a0a0a" opacity="0.8"/>
<rect x="105.75" y="637.60" width="11.50" height="6.00" rx="2.50" fill="#0a0a0a" opacity="0.8"/>
<rect x="119.20" y="634.80" width="13.00" height="8.00" rx="2.50" fill="#0a0a0a" opacity="0.95"/>
</g></g>
<rect x="40.80" y="634.30" width="91.70" height="15.70" fill="none" stroke="#9a9a9a" stroke-width="0.7" />
<text x="137.50" y="647.40" font-size="13.3" fill="#111" >ASCT2</text>
<clipPath id="c12"><rect x="40.80" y="653.80" width="91.70" height="15.70"/></clipPath>
<rect x="40.80" y="653.80" width="91.70" height="15.70" fill="#cdcdcd" />
<g clip-path="url(#c12)"><g filter="url(#bl)">
<rect x="38.50" y="655.00" width="95.00" height="12.00" rx="2.50" fill="#0a0a0a" opacity="0.1" filter="url(#bl2)"/>
<rect x="43.35" y="661.40" width="12.50" height="3.20" rx="1.34" fill="#0a0a0a" opacity="0.92"/>
<rect x="58.80" y="660.10" width="13.00" height="3.40" rx="1.43" fill="#0a0a0a" opacity="0.92"/>
<rect x="74.90" y="659.60" width="13.00" height="3.60" rx="1.51" fill="#0a0a0a" opacity="0.94"/>
<rect x="90.50" y="659.20" width="13.00" height="3.80" rx="1.60" fill="#0a0a0a" opacity="0.96"/>
<rect x="105.75" y="660.70" width="11.50" height="3.00" rx="1.26" fill="#0a0a0a" opacity="0.9"/>
<rect x="119.95" y="661.40" width="9.50" height="2.60" rx="1.09" fill="#0a0a0a" opacity="0.8"/>
</g></g>
<rect x="40.80" y="653.80" width="91.70" height="15.70" fill="none" stroke="#9a9a9a" stroke-width="0.7" />
<text x="137.50" y="666.90" font-size="13.3" fill="#111" >GLS1</text>
<clipPath id="c13"><rect x="40.80" y="673.80" width="91.70" height="15.70"/></clipPath>
<rect x="40.80" y="673.80" width="91.70" height="15.70" fill="#f0f0f0" />
<g clip-path="url(#c13)"><g filter="url(#bl)">
<rect x="43.35" y="680.40" width="11.50" height="2.40" rx="1.01" fill="#0a0a0a" opacity="0.8"/>
<rect x="60.35" y="680.40" width="10.50" height="3.00" rx="1.26" fill="#0a0a0a" opacity="0.9"/>
<rect x="75.90" y="681.20" width="11.00" height="2.00" rx="0.84" fill="#0a0a0a" opacity="0.3"/>
<rect x="91.50" y="680.00" width="12.00" height="4.60" rx="1.93" fill="#0a0a0a" opacity="0.98"/>
<rect x="105.25" y="678.50" width="13.50" height="7.60" rx="2.50" fill="#0a0a0a" opacity="1"/>
<rect x="107.75" y="675.30" width="8.50" height="1.80" rx="0.76" fill="#0a0a0a" opacity="0.8"/>
<rect x="120.20" y="680.00" width="10.00" height="4.40" rx="1.85" fill="#0a0a0a" opacity="0.96"/>
<rect x="120.95" y="674.80" width="4.50" height="2.00" rx="0.84" fill="#0a0a0a" opacity="0.8"/>
</g></g>
<rect x="40.80" y="673.80" width="91.70" height="15.70" fill="none" stroke="#9a9a9a" stroke-width="0.7" />
<text x="137.50" y="686.90" font-size="13.3" fill="#111" >FH</text>
<clipPath id="c14"><rect x="40.80" y="693.30" width="91.70" height="15.90"/></clipPath>
<rect x="40.80" y="693.30" width="91.70" height="15.90" fill="#ececec" />
<g clip-path="url(#c14)"><g filter="url(#bl)">
<rect x="44.10" y="700.50" width="12.00" height="2.60" rx="1.09" fill="#0a0a0a" opacity="0.72"/>
<rect x="58.80" y="699.60" width="13.00" height="3.80" rx="1.60" fill="#0a0a0a" opacity="0.96"/>
<rect x="74.65" y="699.10" width="13.50" height="4.20" rx="1.76" fill="#0a0a0a" opacity="0.97"/>
<rect x="91.00" y="699.70" width="12.00" height="3.60" rx="1.51" fill="#0a0a0a" opacity="0.96"/>
<rect x="106.00" y="699.40" width="11.00" height="4.00" rx="1.68" fill="#0a0a0a" opacity="0.96"/>
<rect x="119.45" y="699.70" width="10.50" height="3.60" rx="1.51" fill="#0a0a0a" opacity="0.95"/>
</g></g>
<rect x="40.80" y="693.30" width="91.70" height="15.90" fill="none" stroke="#9a9a9a" stroke-width="0.7" />
<text x="137.50" y="706.40" font-size="13.3" fill="#111" >MDH1</text>
<clipPath id="c15"><rect x="40.80" y="713.00" width="91.70" height="15.80"/></clipPath>
<rect x="40.80" y="713.00" width="91.70" height="15.80" fill="#bdbdbd" />
<g clip-path="url(#c15)"><g filter="url(#bl)">
<rect x="38.50" y="713.00" width="95.00" height="6.00" rx="2.50" fill="#0a0a0a" opacity="0.15" filter="url(#bl2)"/>
<rect x="46.40" y="718.70" width="14.00" height="5.20" rx="2.18" fill="#0a0a0a" opacity="1"/>
<rect x="61.80" y="718.40" width="13.00" height="4.80" rx="2.02" fill="#0a0a0a" opacity="1"/>
<rect x="77.40" y="718.80" width="12.00" height="3.60" rx="1.51" fill="#0a0a0a" opacity="0.97"/>
<rect x="92.50" y="719.90" width="11.00" height="3.40" rx="1.43" fill="#0a0a0a" opacity="0.97"/>
<rect x="105.75" y="719.30" width="11.50" height="4.60" rx="1.93" fill="#0a0a0a" opacity="1"/>
<rect x="119.45" y="719.10" width="10.50" height="4.80" rx="2.02" fill="#0a0a0a" opacity="1"/>
<rect x="48.10" y="715.60" width="10.00" height="1.20" rx="0.50" fill="#0a0a0a" opacity="0.6"/>
<rect x="62.80" y="715.20" width="10.00" height="1.20" rx="0.50" fill="#0a0a0a" opacity="0.6"/>
<rect x="78.40" y="715.10" width="8.00" height="1.00" rx="0.42" fill="#0a0a0a" opacity="0.25"/>
<rect x="107.50" y="715.50" width="8.00" height="1.00" rx="0.42" fill="#0a0a0a" opacity="0.3"/>
<rect x="121.20" y="715.70" width="7.00" height="1.00" rx="0.42" fill="#0a0a0a" opacity="0.25"/>
</g></g>
<rect x="40.80" y="713.00" width="91.70" height="15.80" fill="none" stroke="#9a9a9a" stroke-width="0.7" />
<text x="137.50" y="726.10" font-size="13.3" fill="#111" >MDH2</text>
<clipPath id="c16"><rect x="40.80" y="732.50" width="91.70" height="15.80"/></clipPath>
<rect x="40.80" y="732.50" width="91.70" height="15.80" fill="#e9e9e9" />
<g clip-path="url(#c16)"><g filter="url(#bl)">
<rect x="42.40" y="737.20" width="14.40" height="6.20" rx="2.50" fill="#0a0a0a" opacity="1"/>
<rect x="59.00" y="737.40" width="12.60" height="5.20" rx="2.18" fill="#0a0a0a" opacity="1"/>
<rect x="75.55" y="738.10" width="11.70" height="4.80" rx="2.02" fill="#0a0a0a" opacity="0.93"/>
<rect x="91.38" y="738.00" width="11.25" height="4.00" rx="1.68" fill="#0a0a0a" opacity="0.95"/>
<rect x="107.00" y="739.30" width="9.00" height="3.00" rx="1.26" fill="#0a0a0a" opacity="0.42"/>
<rect x="120.20" y="739.60" width="9.00" height="2.40" rx="1.01" fill="#0a0a0a" opacity="0.28"/>
</g></g>
<rect x="40.80" y="732.50" width="91.70" height="15.80" fill="none" stroke="#9a9a9a" stroke-width="0.7" />
<text x="137.50" y="745.60" font-size="13.3" fill="#111" >PCK1</text>
<clipPath id="c17"><rect x="40.80" y="752.50" width="91.70" height="15.80"/></clipPath>
<rect x="40.80" y="752.50" width="91.70" height="15.80" fill="#e9e9e9" />
<g clip-path="url(#c17)"><g filter="url(#bl)">
<rect x="42.40" y="760.40" width="14.40" height="3.20" rx="1.34" fill="#0a0a0a" opacity="0.96"/>
<rect x="59.00" y="760.10" width="12.60" height="2.80" rx="1.18" fill="#0a0a0a" opacity="0.92"/>
<rect x="75.10" y="759.80" width="12.60" height="2.80" rx="1.18" fill="#0a0a0a" opacity="0.93"/>
<rect x="93.40" y="760.70" width="7.20" height="1.60" rx="0.67" fill="#0a0a0a" opacity="0.3"/>
<rect x="107.00" y="760.20" width="9.00" height="1.60" rx="0.67" fill="#0a0a0a" opacity="0.3"/>
<rect x="120.20" y="759.70" width="9.00" height="1.60" rx="0.67" fill="#0a0a0a" opacity="0.25"/>
<rect x="39.65" y="757.00" width="2.70" height="6.00" rx="0.90" fill="#0a0a0a" opacity="0.6"/>
</g></g>
<rect x="40.80" y="752.50" width="91.70" height="15.80" fill="none" stroke="#9a9a9a" stroke-width="0.7" />
<text x="137.50" y="765.60" font-size="13.3" fill="#111" >PCK2</text>
<clipPath id="c18"><rect x="40.80" y="772.50" width="91.70" height="17.50"/></clipPath>
<rect x="40.80" y="772.50" width="91.70" height="17.50" fill="#f3f3f3" />
<g clip-path="url(#c18)"><g filter="url(#bl)">
<rect x="49.20" y="783.90" width="10.80" height="2.60" rx="1.09" fill="#0a0a0a" opacity="0.9"/>
<rect x="63.90" y="783.70" width="10.80" height="2.60" rx="1.09" fill="#0a0a0a" opacity="0.9"/>
<rect x="77.00" y="783.00" width="10.80" height="3.00" rx="1.26" fill="#0a0a0a" opacity="0.96"/>
<rect x="93.85" y="784.25" width="6.30" height="1.50" rx="0.63" fill="#0a0a0a" opacity="0.4"/>
<rect x="107.00" y="783.60" width="9.00" height="2.80" rx="1.18" fill="#0a0a0a" opacity="0.92"/>
<rect x="122.00" y="784.90" width="5.40" height="1.20" rx="0.50" fill="#0a0a0a" opacity="0.2"/>
<rect x="50.55" y="778.00" width="8.10" height="1.00" rx="0.42" fill="#0a0a0a" opacity="0.4"/>
<rect x="65.25" y="777.80" width="8.10" height="1.00" rx="0.42" fill="#0a0a0a" opacity="0.4"/>
<rect x="78.35" y="777.45" width="8.10" height="1.10" rx="0.46" fill="#0a0a0a" opacity="0.45"/>
<rect x="108.35" y="777.00" width="6.30" height="1.00" rx="0.42" fill="#0a0a0a" opacity="0.2"/>
</g></g>
<rect x="40.80" y="772.50" width="91.70" height="17.50" fill="none" stroke="#9a9a9a" stroke-width="0.7" />
<text x="137.50" y="785.60" font-size="13.3" fill="#111" >FBP1</text>
<clipPath id="c19"><rect x="40.80" y="794.50" width="91.70" height="16.30"/></clipPath>
<rect x="40.80" y="794.50" width="91.70" height="16.30" fill="#c9c9c9" />
<g clip-path="url(#c19)"><g filter="url(#bl)">
<rect x="44.65" y="800.90" width="9.90" height="2.20" rx="0.92" fill="#0a0a0a" opacity="0.7"/>
<rect x="62.35" y="801.10" width="9.90" height="2.80" rx="1.18" fill="#0a0a0a" opacity="0.85"/>
<rect x="74.55" y="800.60" width="11.70" height="3.80" rx="1.60" fill="#0a0a0a" opacity="0.97"/>
<rect x="87.60" y="801.40" width="10.80" height="3.20" rx="1.34" fill="#0a0a0a" opacity="0.94"/>
<rect x="121.20" y="801.30" width="9.00" height="2.60" rx="1.09" fill="#0a0a0a" opacity="0.6"/>
<rect x="123.60" y="794.00" width="10.80" height="18.00" rx="2.50" fill="#0a0a0a" opacity="0.1" filter="url(#bl2)"/>
</g></g>
<rect x="40.80" y="794.50" width="91.70" height="16.30" fill="none" stroke="#9a9a9a" stroke-width="0.7" />
<text x="137.50" y="807.60" font-size="13.3" fill="#111" >G6Pase</text>
<clipPath id="c20"><rect x="40.80" y="815.00" width="91.70" height="15.50"/></clipPath>
<rect x="40.80" y="815.00" width="91.70" height="15.50" fill="#ececec" />
<g clip-path="url(#c20)"><g filter="url(#bl)">
<rect x="43.08" y="820.80" width="13.05" height="3.20" rx="1.34" fill="#0a0a0a" opacity="0.96"/>
<rect x="58.77" y="821.10" width="13.05" height="3.20" rx="1.34" fill="#0a0a0a" opacity="0.96"/>
<rect x="74.88" y="820.80" width="13.05" height="3.20" rx="1.34" fill="#0a0a0a" opacity="0.96"/>
<rect x="90.47" y="821.10" width="13.05" height="3.20" rx="1.34" fill="#0a0a0a" opacity="0.96"/>
<rect x="104.97" y="820.80" width="13.05" height="3.20" rx="1.34" fill="#0a0a0a" opacity="0.96"/>
<rect x="118.17" y="821.10" width="13.05" height="3.20" rx="1.34" fill="#0a0a0a" opacity="0.96"/>
<rect x="46.00" y="822.00" width="80.00" height="1.20" rx="0.50" fill="#0a0a0a" opacity="0.7"/>
</g></g>
<rect x="40.80" y="815.00" width="91.70" height="15.50" fill="none" stroke="#9a9a9a" stroke-width="0.7" />
<text x="137.50" y="828.10" font-size="13.3" fill="#111" >Actin</text>
<text x="33.30" y="650.80" font-size="10" text-anchor="end" fill="#222" textLength="11.5" lengthAdjust="spacingAndGlyphs">55</text>
<line x1="36.90" y1="647.50" x2="39.70" y2="647.50" stroke="#222" stroke-width="0.9" />
<text x="33.30" y="664.40" font-size="10" text-anchor="end" fill="#222" textLength="11.5" lengthAdjust="spacingAndGlyphs">75</text>
<line x1="36.90" y1="659.50" x2="39.70" y2="659.50" stroke="#222" stroke-width="0.9" />
<text x="33.30" y="690.80" font-size="10" text-anchor="end" fill="#222" textLength="11.5" lengthAdjust="spacingAndGlyphs">43</text>
<line x1="36.90" y1="687.30" x2="39.70" y2="687.30" stroke="#222" stroke-width="0.9" />
<text x="33.30" y="711.30" font-size="10" text-anchor="end" fill="#222" textLength="11.5" lengthAdjust="spacingAndGlyphs">33</text>
<line x1="36.90" y1="708.00" x2="39.70" y2="708.00" stroke="#222" stroke-width="0.9" />
<text x="33.30" y="729.60" font-size="10" text-anchor="end" fill="#222" textLength="11.5" lengthAdjust="spacingAndGlyphs">33</text>
<line x1="36.90" y1="726.00" x2="39.70" y2="726.00" stroke="#222" stroke-width="0.9" />
<text x="33.30" y="738.00" font-size="10" text-anchor="end" fill="#222" textLength="11.5" lengthAdjust="spacingAndGlyphs">75</text>
<line x1="36.90" y1="734.00" x2="39.70" y2="734.00" stroke="#222" stroke-width="0.9" />
<text x="33.30" y="758.00" font-size="10" text-anchor="end" fill="#222" textLength="11.5" lengthAdjust="spacingAndGlyphs">75</text>
<line x1="36.90" y1="753.80" x2="39.70" y2="753.80" stroke="#222" stroke-width="0.9" />
<text x="33.30" y="781.30" font-size="10" text-anchor="end" fill="#222" textLength="11.5" lengthAdjust="spacingAndGlyphs">43</text>
<line x1="36.90" y1="777.00" x2="39.70" y2="777.00" stroke="#222" stroke-width="0.9" />
<text x="33.30" y="811.80" font-size="10" text-anchor="end" fill="#222" textLength="11.5" lengthAdjust="spacingAndGlyphs">33</text>
<line x1="36.90" y1="807.00" x2="39.70" y2="807.00" stroke="#222" stroke-width="0.9" />
<text x="33.30" y="830.80" font-size="10" text-anchor="end" fill="#222" textLength="11.5" lengthAdjust="spacingAndGlyphs">43</text>
<line x1="36.90" y1="826.00" x2="39.70" y2="826.00" stroke="#222" stroke-width="0.9" />
<text x="22.00" y="843.30" font-size="10" fill="#151515" >kDa</text>
<rect x="228.90" y="739.54" width="6.00" height="39.86" fill="#65a4f7" />
<line x1="231.90" y1="723.00" x2="231.90" y2="755.30" stroke="#333" stroke-width="0.6" />
<line x1="230.60" y1="723.00" x2="233.20" y2="723.00" stroke="#333" stroke-width="0.6" />
<line x1="230.60" y1="755.30" x2="233.20" y2="755.30" stroke="#333" stroke-width="0.6" />
<circle cx="231.90" cy="729.46" r="0.5" fill="#222"/>
<circle cx="231.90" cy="740.76" r="0.5" fill="#222"/>
<circle cx="231.90" cy="750.45" r="0.5" fill="#222"/>
<rect x="237.20" y="726.90" width="6.00" height="52.50" fill="#f1757f" />
<line x1="240.20" y1="721.20" x2="240.20" y2="733.00" stroke="#333" stroke-width="0.6" />
<line x1="238.90" y1="721.20" x2="241.50" y2="721.20" stroke="#333" stroke-width="0.6" />
<line x1="238.90" y1="733.00" x2="241.50" y2="733.00" stroke="#333" stroke-width="0.6" />
<circle cx="240.20" cy="723.56" r="0.5" fill="#222"/>
<circle cx="240.20" cy="727.69" r="0.5" fill="#222"/>
<circle cx="240.20" cy="731.23" r="0.5" fill="#222"/>
<line x1="232.75" y1="716.40" x2="239.35" y2="716.40" stroke="#444" stroke-width="0.9" />
<text x="236.05" y="714.60" font-size="13.3" text-anchor="middle" fill="#0d0d0d" >ns</text>
<line x1="236.05" y1="779.40" x2="236.05" y2="782.40" stroke="#222" stroke-width="1" />
<text x="240.81" y="784.50" font-size="13.3" text-anchor="end" fill="#0d0d0d" transform="rotate(-90 240.81 784.50)" >ASCT2</text>
<rect x="251.35" y="739.54" width="6.00" height="39.86" fill="#65a4f7" />
<line x1="254.35" y1="734.00" x2="254.35" y2="744.90" stroke="#333" stroke-width="0.6" />
<line x1="253.05" y1="734.00" x2="255.65" y2="734.00" stroke="#333" stroke-width="0.6" />
<line x1="253.05" y1="744.90" x2="255.65" y2="744.90" stroke="#333" stroke-width="0.6" />
<circle cx="254.35" cy="736.18" r="0.5" fill="#222"/>
<circle cx="254.35" cy="740.00" r="0.5" fill="#222"/>
<circle cx="254.35" cy="743.26" r="0.5" fill="#222"/>
<rect x="259.65" y="734.36" width="6.00" height="45.04" fill="#f1757f" />
<line x1="262.65" y1="719.30" x2="262.65" y2="750.60" stroke="#333" stroke-width="0.6" />
<line x1="261.35" y1="719.30" x2="263.95" y2="719.30" stroke="#333" stroke-width="0.6" />
<line x1="261.35" y1="750.60" x2="263.95" y2="750.60" stroke="#333" stroke-width="0.6" />
<circle cx="262.65" cy="725.56" r="0.5" fill="#222"/>
<circle cx="262.65" cy="736.51" r="0.5" fill="#222"/>
<circle cx="262.65" cy="745.90" r="0.5" fill="#222"/>
<line x1="255.20" y1="716.40" x2="261.80" y2="716.40" stroke="#444" stroke-width="0.9" />
<text x="258.50" y="714.60" font-size="13.3" text-anchor="middle" fill="#0d0d0d" >ns</text>
<line x1="258.50" y1="779.40" x2="258.50" y2="782.40" stroke="#222" stroke-width="1" />
<text x="263.26" y="784.50" font-size="13.3" text-anchor="end" fill="#0d0d0d" transform="rotate(-90 263.26 784.50)" >GLS1</text>
<rect x="273.80" y="736.91" width="6.00" height="42.49" fill="#65a4f7" />
<line x1="276.80" y1="730.00" x2="276.80" y2="743.00" stroke="#333" stroke-width="0.6" />
<line x1="275.50" y1="730.00" x2="278.10" y2="730.00" stroke="#333" stroke-width="0.6" />
<line x1="275.50" y1="743.00" x2="278.10" y2="743.00" stroke="#333" stroke-width="0.6" />
<circle cx="276.80" cy="732.60" r="0.5" fill="#222"/>
<circle cx="276.80" cy="737.15" r="0.5" fill="#222"/>
<circle cx="276.80" cy="741.05" r="0.5" fill="#222"/>
<rect x="282.10" y="710.84" width="6.00" height="68.56" fill="#f1757f" />
<line x1="285.10" y1="693.30" x2="285.10" y2="727.80" stroke="#333" stroke-width="0.6" />
<line x1="283.80" y1="693.30" x2="286.40" y2="693.30" stroke="#333" stroke-width="0.6" />
<line x1="283.80" y1="727.80" x2="286.40" y2="727.80" stroke="#333" stroke-width="0.6" />
<circle cx="285.10" cy="700.20" r="0.5" fill="#222"/>
<circle cx="285.10" cy="712.27" r="0.5" fill="#222"/>
<circle cx="285.10" cy="722.62" r="0.5" fill="#222"/>
<line x1="277.65" y1="687.00" x2="284.25" y2="687.00" stroke="#444" stroke-width="0.9" />
<text x="280.95" y="686.20" font-size="13.3" text-anchor="middle" fill="#0d0d0d" >*</text>
<line x1="280.95" y1="779.40" x2="280.95" y2="782.40" stroke="#222" stroke-width="1" />
<text x="285.71" y="784.50" font-size="13.3" text-anchor="end" fill="#0d0d0d" transform="rotate(-90 285.71 784.50)" >FH</text>
<rect x="296.25" y="740.14" width="6.00" height="39.26" fill="#65a4f7" />
<line x1="299.25" y1="727.20" x2="299.25" y2="753.00" stroke="#333" stroke-width="0.6" />
<line x1="297.95" y1="727.20" x2="300.55" y2="727.20" stroke="#333" stroke-width="0.6" />
<line x1="297.95" y1="753.00" x2="300.55" y2="753.00" stroke="#333" stroke-width="0.6" />
<circle cx="299.25" cy="732.36" r="0.5" fill="#222"/>
<circle cx="299.25" cy="741.39" r="0.5" fill="#222"/>
<circle cx="299.25" cy="749.13" r="0.5" fill="#222"/>
<rect x="304.55" y="737.95" width="6.00" height="41.45" fill="#f1757f" />
<line x1="307.55" y1="732.50" x2="307.55" y2="743.00" stroke="#333" stroke-width="0.6" />
<line x1="306.25" y1="732.50" x2="308.85" y2="732.50" stroke="#333" stroke-width="0.6" />
<line x1="306.25" y1="743.00" x2="308.85" y2="743.00" stroke="#333" stroke-width="0.6" />
<circle cx="307.55" cy="734.60" r="0.5" fill="#222"/>
<circle cx="307.55" cy="738.27" r="0.5" fill="#222"/>
<circle cx="307.55" cy="741.42" r="0.5" fill="#222"/>
<line x1="300.10" y1="723.00" x2="306.70" y2="723.00" stroke="#444" stroke-width="0.9" />
<text x="303.40" y="721.20" font-size="13.3" text-anchor="middle" fill="#0d0d0d" >ns</text>
<line x1="303.40" y1="779.40" x2="303.40" y2="782.40" stroke="#222" stroke-width="1" />
<text x="308.16" y="784.50" font-size="13.3" text-anchor="end" fill="#0d0d0d" transform="rotate(-90 308.16 784.50)" >MDH1</text>
<rect x="318.70" y="739.54" width="6.00" height="39.86" fill="#65a4f7" />
<line x1="321.70" y1="734.40" x2="321.70" y2="744.30" stroke="#333" stroke-width="0.6" />
<line x1="320.40" y1="734.40" x2="323.00" y2="734.40" stroke="#333" stroke-width="0.6" />
<line x1="320.40" y1="744.30" x2="323.00" y2="744.30" stroke="#333" stroke-width="0.6" />
<circle cx="321.70" cy="736.38" r="0.5" fill="#222"/>
<circle cx="321.70" cy="739.84" r="0.5" fill="#222"/>
<circle cx="321.70" cy="742.81" r="0.5" fill="#222"/>
<rect x="327.00" y="740.74" width="6.00" height="38.66" fill="#f1757f" />
<line x1="330.00" y1="732.00" x2="330.00" y2="750.00" stroke="#333" stroke-width="0.6" />
<line x1="328.70" y1="732.00" x2="331.30" y2="732.00" stroke="#333" stroke-width="0.6" />
<line x1="328.70" y1="750.00" x2="331.30" y2="750.00" stroke="#333" stroke-width="0.6" />
<circle cx="330.00" cy="735.60" r="0.5" fill="#222"/>
<circle cx="330.00" cy="741.90" r="0.5" fill="#222"/>
<circle cx="330.00" cy="747.30" r="0.5" fill="#222"/>
<line x1="322.55" y1="728.20" x2="329.15" y2="728.20" stroke="#444" stroke-width="0.9" />
<text x="325.85" y="726.40" font-size="13.3" text-anchor="middle" fill="#0d0d0d" >ns</text>
<line x1="325.85" y1="779.40" x2="325.85" y2="782.40" stroke="#222" stroke-width="1" />
<text x="330.61" y="784.50" font-size="13.3" text-anchor="end" fill="#0d0d0d" transform="rotate(-90 330.61 784.50)" >MDH2</text>
<rect x="341.15" y="738.74" width="6.00" height="40.66" fill="#65a4f7" />
<line x1="344.15" y1="738.30" x2="344.15" y2="739.30" stroke="#333" stroke-width="0.6" />
<line x1="342.85" y1="738.30" x2="345.45" y2="738.30" stroke="#333" stroke-width="0.6" />
<line x1="342.85" y1="739.30" x2="345.45" y2="739.30" stroke="#333" stroke-width="0.6" />
<circle cx="344.15" cy="738.50" r="0.5" fill="#222"/>
<circle cx="344.15" cy="738.85" r="0.5" fill="#222"/>
<circle cx="344.15" cy="739.15" r="0.5" fill="#222"/>
<rect x="349.45" y="763.85" width="6.00" height="15.55" fill="#f1757f" />
<line x1="352.45" y1="759.50" x2="352.45" y2="768.00" stroke="#333" stroke-width="0.6" />
<line x1="351.15" y1="759.50" x2="353.75" y2="759.50" stroke="#333" stroke-width="0.6" />
<line x1="351.15" y1="768.00" x2="353.75" y2="768.00" stroke="#333" stroke-width="0.6" />
<circle cx="352.45" cy="761.20" r="0.5" fill="#222"/>
<circle cx="352.45" cy="764.17" r="0.5" fill="#222"/>
<circle cx="352.45" cy="766.73" r="0.5" fill="#222"/>
<line x1="345.00" y1="728.20" x2="351.60" y2="728.20" stroke="#444" stroke-width="0.9" />
<text x="348.30" y="727.40" font-size="13.3" text-anchor="middle" fill="#0d0d0d" >*</text>
<line x1="348.30" y1="779.40" x2="348.30" y2="782.40" stroke="#222" stroke-width="1" />
<text x="353.06" y="784.50" font-size="13.3" text-anchor="end" fill="#0d0d0d" transform="rotate(-90 353.06 784.50)" >PCK1</text>
<rect x="363.60" y="734.76" width="6.00" height="44.64" fill="#65a4f7" />
<line x1="366.60" y1="733.00" x2="366.60" y2="736.50" stroke="#333" stroke-width="0.6" />
<line x1="365.30" y1="733.00" x2="367.90" y2="733.00" stroke="#333" stroke-width="0.6" />
<line x1="365.30" y1="736.50" x2="367.90" y2="736.50" stroke="#333" stroke-width="0.6" />
<circle cx="366.60" cy="733.70" r="0.5" fill="#222"/>
<circle cx="366.60" cy="734.92" r="0.5" fill="#222"/>
<circle cx="366.60" cy="735.98" r="0.5" fill="#222"/>
<rect x="371.90" y="762.66" width="6.00" height="16.74" fill="#f1757f" />
<line x1="374.90" y1="761.80" x2="374.90" y2="763.20" stroke="#333" stroke-width="0.6" />
<line x1="373.60" y1="761.80" x2="376.20" y2="761.80" stroke="#333" stroke-width="0.6" />
<line x1="373.60" y1="763.20" x2="376.20" y2="763.20" stroke="#333" stroke-width="0.6" />
<circle cx="374.90" cy="762.08" r="0.5" fill="#222"/>
<circle cx="374.90" cy="762.57" r="0.5" fill="#222"/>
<circle cx="374.90" cy="762.99" r="0.5" fill="#222"/>
<line x1="367.45" y1="728.20" x2="374.05" y2="728.20" stroke="#444" stroke-width="0.9" />
<text x="370.75" y="727.40" font-size="13.3" text-anchor="middle" fill="#0d0d0d" >**</text>
<line x1="370.75" y1="779.40" x2="370.75" y2="782.40" stroke="#222" stroke-width="1" />
<text x="375.51" y="784.50" font-size="13.3" text-anchor="end" fill="#0d0d0d" transform="rotate(-90 375.51 784.50)" >PCK2</text>
<rect x="386.05" y="739.54" width="6.00" height="39.86" fill="#65a4f7" />
<line x1="389.05" y1="736.00" x2="389.05" y2="743.00" stroke="#333" stroke-width="0.6" />
<line x1="387.75" y1="736.00" x2="390.35" y2="736.00" stroke="#333" stroke-width="0.6" />
<line x1="387.75" y1="743.00" x2="390.35" y2="743.00" stroke="#333" stroke-width="0.6" />
<circle cx="389.05" cy="737.40" r="0.5" fill="#222"/>
<circle cx="389.05" cy="739.85" r="0.5" fill="#222"/>
<circle cx="389.05" cy="741.95" r="0.5" fill="#222"/>
<rect x="394.35" y="763.06" width="6.00" height="16.34" fill="#f1757f" />
<line x1="397.35" y1="745.80" x2="397.35" y2="779.00" stroke="#333" stroke-width="0.6" />
<line x1="396.05" y1="745.80" x2="398.65" y2="745.80" stroke="#333" stroke-width="0.6" />
<line x1="396.05" y1="779.00" x2="398.65" y2="779.00" stroke="#333" stroke-width="0.6" />
<circle cx="397.35" cy="752.44" r="0.5" fill="#222"/>
<circle cx="397.35" cy="764.06" r="0.5" fill="#222"/>
<circle cx="397.35" cy="774.02" r="0.5" fill="#222"/>
<line x1="389.90" y1="728.20" x2="396.50" y2="728.20" stroke="#444" stroke-width="0.9" />
<text x="393.20" y="726.40" font-size="13.3" text-anchor="middle" fill="#0d0d0d" >ns</text>
<line x1="393.20" y1="779.40" x2="393.20" y2="782.40" stroke="#222" stroke-width="1" />
<text x="397.96" y="784.50" font-size="13.3" text-anchor="end" fill="#0d0d0d" transform="rotate(-90 397.96 784.50)" >FBP1</text>
<rect x="408.50" y="729.18" width="6.00" height="50.22" fill="#65a4f7" />
<line x1="411.50" y1="708.30" x2="411.50" y2="749.20" stroke="#333" stroke-width="0.6" />
<line x1="410.20" y1="708.30" x2="412.80" y2="708.30" stroke="#333" stroke-width="0.6" />
<line x1="410.20" y1="749.20" x2="412.80" y2="749.20" stroke="#333" stroke-width="0.6" />
<circle cx="411.50" cy="716.48" r="0.5" fill="#222"/>
<circle cx="411.50" cy="730.79" r="0.5" fill="#222"/>
<circle cx="411.50" cy="743.07" r="0.5" fill="#222"/>
<rect x="416.80" y="751.10" width="6.00" height="28.30" fill="#f1757f" />
<line x1="419.80" y1="733.50" x2="419.80" y2="771.40" stroke="#333" stroke-width="0.6" />
<line x1="418.50" y1="733.50" x2="421.10" y2="733.50" stroke="#333" stroke-width="0.6" />
<line x1="418.50" y1="771.40" x2="421.10" y2="771.40" stroke="#333" stroke-width="0.6" />
<circle cx="419.80" cy="741.08" r="0.5" fill="#222"/>
<circle cx="419.80" cy="754.35" r="0.5" fill="#222"/>
<circle cx="419.80" cy="765.72" r="0.5" fill="#222"/>
<line x1="412.35" y1="704.00" x2="418.95" y2="704.00" stroke="#444" stroke-width="0.9" />
<text x="415.65" y="702.20" font-size="13.3" text-anchor="middle" fill="#0d0d0d" >ns</text>
<line x1="415.65" y1="779.40" x2="415.65" y2="782.40" stroke="#222" stroke-width="1" />
<text x="420.41" y="784.50" font-size="13.3" text-anchor="end" fill="#0d0d0d" transform="rotate(-90 420.41 784.50)" >G6Pase</text>
<line x1="225.10" y1="679.30" x2="225.10" y2="779.90" stroke="#222" stroke-width="1" />
<line x1="224.60" y1="779.40" x2="426.00" y2="779.40" stroke="#222" stroke-width="1" />
<line x1="222.10" y1="779.40" x2="225.10" y2="779.40" stroke="#222" stroke-width="1" />
<text x="221.00" y="784.00" font-size="13" text-anchor="end" fill="#0d0d0d" >0</text>
<line x1="222.10" y1="759.47" x2="225.10" y2="759.47" stroke="#222" stroke-width="1" />
<text x="221.00" y="764.07" font-size="13" text-anchor="end" fill="#0d0d0d" >0.5</text>
<line x1="222.10" y1="739.54" x2="225.10" y2="739.54" stroke="#222" stroke-width="1" />
<text x="221.00" y="744.14" font-size="13" text-anchor="end" fill="#0d0d0d" >1.0</text>
<line x1="222.10" y1="719.61" x2="225.10" y2="719.61" stroke="#222" stroke-width="1" />
<text x="221.00" y="724.21" font-size="13" text-anchor="end" fill="#0d0d0d" >1.5</text>
<line x1="222.10" y1="699.68" x2="225.10" y2="699.68" stroke="#222" stroke-width="1" />
<text x="221.00" y="704.28" font-size="13" text-anchor="end" fill="#0d0d0d" >2.0</text>
<line x1="222.10" y1="679.75" x2="225.10" y2="679.75" stroke="#222" stroke-width="1" />
<text x="221.00" y="684.35" font-size="13" text-anchor="end" fill="#0d0d0d" >2.5</text>
<text x="198.60" y="730.00" font-size="13.3" text-anchor="middle" fill="#0d0d0d" transform="rotate(-90 198.60 730.00)" >Relative Protein Level (A.U.)</text>
<rect x="260.80" y="662.30" width="6.60" height="2.90" fill="#65a4f7" />
<text x="274.60" y="668.80" font-size="13.3" fill="#0d0d0d" >Negative</text>
<rect x="346.80" y="662.30" width="6.60" height="2.90" fill="#f1757f" />
<text x="359.90" y="668.80" font-size="13.3" fill="#0d0d0d" >Positive</text>
<text x="456.70" y="284.70" font-size="13.3" fill="#0d0d0d" >KATO-III</text>
<text x="510.20" y="284.70" font-size="13.3" fill="#0d0d0d" >MKN-45</text>
<text x="562.20" y="284.70" font-size="13.3" fill="#0d0d0d" >MKN-1</text>
<text x="610.60" y="284.70" font-size="13.3" fill="#0d0d0d" >HeLa</text>
<text x="467.56" y="356.80" font-size="13.3" fill="#0d0d0d" transform="rotate(-90 467.56 356.80)" >siNC</text>
<text x="484.26" y="356.80" font-size="13.3" fill="#0d0d0d" transform="rotate(-90 484.26 356.80)" >siPCK2 #1</text>
<text x="500.36" y="356.80" font-size="13.3" fill="#0d0d0d" transform="rotate(-90 500.36 356.80)" >siPCK2 #2</text>
<text x="517.76" y="356.80" font-size="13.3" fill="#0d0d0d" transform="rotate(-90 517.76 356.80)" >siNC</text>
<text x="532.46" y="356.80" font-size="13.3" fill="#0d0d0d" transform="rotate(-90 532.46 356.80)" >siPCK2 #1</text>
<text x="546.66" y="356.80" font-size="13.3" fill="#0d0d0d" transform="rotate(-90 546.66 356.80)" >siPCK2 #2</text>
<text x="564.46" y="356.80" font-size="13.3" fill="#0d0d0d" transform="rotate(-90 564.46 356.80)" >siNC</text>
<text x="580.26" y="356.80" font-size="13.3" fill="#0d0d0d" transform="rotate(-90 580.26 356.80)" >siPCK2 #1</text>
<text x="595.76" y="356.80" font-size="13.3" fill="#0d0d0d" transform="rotate(-90 595.76 356.80)" >siPCK2 #2</text>
<text x="612.86" y="356.80" font-size="13.3" fill="#0d0d0d" transform="rotate(-90 612.86 356.80)" >siNC</text>
<text x="628.06" y="356.80" font-size="13.3" fill="#0d0d0d" transform="rotate(-90 628.06 356.80)" >siPCK2 #1</text>
<text x="643.26" y="356.80" font-size="13.3" fill="#0d0d0d" transform="rotate(-90 643.26 356.80)" >siPCK2 #2</text>
<clipPath id="c21"><rect x="455.20" y="359.00" width="45.90" height="16.20"/></clipPath>
<rect x="455.20" y="359.00" width="45.90" height="16.20" fill="#e9e9e9" />
<g clip-path="url(#c21)"><g filter="url(#bl)">
<rect x="457.20" y="365.70" width="12.00" height="4.20" rx="1.76" fill="#0a0a0a" opacity="0.98"/>
<rect x="474.40" y="366.50" width="9.00" height="2.60" rx="1.09" fill="#0a0a0a" opacity="0.4"/>
<rect x="487.80" y="366.50" width="10.00" height="2.60" rx="1.09" fill="#0a0a0a" opacity="0.5"/>
</g></g>
<rect x="455.20" y="359.00" width="45.90" height="16.20" fill="none" stroke="#555" stroke-width="0.7" />
<clipPath id="c22"><rect x="455.20" y="378.00" width="45.90" height="16.20"/></clipPath>
<rect x="455.20" y="378.00" width="45.90" height="16.20" fill="#ededed" />
<g clip-path="url(#c22)"><g filter="url(#bl)">
<rect x="457.45" y="384.30" width="11.50" height="2.60" rx="1.09" fill="#0a0a0a" opacity="0.96"/>
<rect x="473.15" y="384.60" width="11.50" height="2.60" rx="1.09" fill="#0a0a0a" opacity="0.96"/>
<rect x="487.05" y="384.30" width="11.50" height="2.60" rx="1.09" fill="#0a0a0a" opacity="0.96"/>
</g></g>
<rect x="455.20" y="378.00" width="45.90" height="16.20" fill="none" stroke="#555" stroke-width="0.7" />
<clipPath id="c23"><rect x="503.60" y="359.00" width="46.10" height="16.20"/></clipPath>
<rect x="503.60" y="359.00" width="46.10" height="16.20" fill="#dcdcdc" />
<g clip-path="url(#c23)"><g filter="url(#bl)">
<rect x="505.20" y="364.70" width="13.00" height="5.80" rx="2.44" fill="#0a0a0a" opacity="1"/>
<rect x="508.70" y="372.80" width="6.00" height="2.00" rx="0.84" fill="#0a0a0a" opacity="0.5"/>
<rect x="521.80" y="365.70" width="11.00" height="3.20" rx="1.34" fill="#0a0a0a" opacity="0.68"/>
<rect x="537.50" y="365.70" width="10.00" height="2.60" rx="1.09" fill="#0a0a0a" opacity="0.45"/>
</g></g>
<rect x="503.60" y="359.00" width="46.10" height="16.20" fill="none" stroke="#555" stroke-width="0.7" />
<clipPath id="c24"><rect x="503.60" y="378.00" width="46.10" height="16.20"/></clipPath>
<rect x="503.60" y="378.00" width="46.10" height="16.20" fill="#ededed" />
<g clip-path="url(#c24)"><g filter="url(#bl)">
<rect x="505.95" y="384.30" width="11.50" height="2.60" rx="1.09" fill="#0a0a0a" opacity="0.96"/>
<rect x="521.55" y="384.60" width="11.50" height="2.60" rx="1.09" fill="#0a0a0a" opacity="0.96"/>
<rect x="536.75" y="384.30" width="11.50" height="2.60" rx="1.09" fill="#0a0a0a" opacity="0.96"/>
</g></g>
<rect x="503.60" y="378.00" width="46.10" height="16.20" fill="none" stroke="#555" stroke-width="0.7" />
<clipPath id="c25"><rect x="552.30" y="359.00" width="46.30" height="16.20"/></clipPath>
<rect x="552.30" y="359.00" width="46.30" height="16.20" fill="#f0f0f0" />
<g clip-path="url(#c25)"><g filter="url(#bl)">
<rect x="556.00" y="366.80" width="8.00" height="2.00" rx="0.84" fill="#0a0a0a" opacity="0.14"/>
<rect x="572.00" y="367.00" width="8.00" height="2.00" rx="0.84" fill="#0a0a0a" opacity="0.08"/>
<rect x="587.00" y="367.00" width="8.00" height="2.00" rx="0.84" fill="#0a0a0a" opacity="0.08"/>
</g></g>
<rect x="552.30" y="359.00" width="46.30" height="16.20" fill="none" stroke="#555" stroke-width="0.7" />
<clipPath id="c26"><rect x="552.30" y="378.00" width="46.30" height="16.20"/></clipPath>
<rect x="552.30" y="378.00" width="46.30" height="16.20" fill="#ededed" />
<g clip-path="url(#c26)"><g filter="url(#bl)">
<rect x="554.25" y="384.30" width="11.50" height="2.60" rx="1.09" fill="#0a0a0a" opacity="0.96"/>
<rect x="570.25" y="384.60" width="11.50" height="2.60" rx="1.09" fill="#0a0a0a" opacity="0.96"/>
<rect x="585.25" y="384.30" width="11.50" height="2.60" rx="1.09" fill="#0a0a0a" opacity="0.96"/>
</g></g>
<rect x="552.30" y="378.00" width="46.30" height="16.20" fill="none" stroke="#555" stroke-width="0.7" />
<clipPath id="c27"><rect x="601.10" y="359.00" width="46.30" height="16.20"/></clipPath>
<rect x="601.10" y="359.00" width="46.30" height="16.20" fill="#e9e9e9" />
<g clip-path="url(#c27)"><g filter="url(#bl)">
<rect x="603.00" y="366.10" width="11.00" height="2.80" rx="1.18" fill="#0a0a0a" opacity="0.45"/>
<rect x="619.00" y="365.70" width="10.00" height="2.20" rx="0.92" fill="#0a0a0a" opacity="0.25"/>
<rect x="634.00" y="365.70" width="10.00" height="2.20" rx="0.92" fill="#0a0a0a" opacity="0.3"/>
</g></g>
<rect x="601.10" y="359.00" width="46.30" height="16.20" fill="none" stroke="#555" stroke-width="0.7" />
<clipPath id="c28"><rect x="601.10" y="378.00" width="46.30" height="16.20"/></clipPath>
<rect x="601.10" y="378.00" width="46.30" height="16.20" fill="#ededed" />
<g clip-path="url(#c28)"><g filter="url(#bl)">
<rect x="602.75" y="384.30" width="11.50" height="2.60" rx="1.09" fill="#0a0a0a" opacity="0.96"/>
<rect x="618.25" y="384.60" width="11.50" height="2.60" rx="1.09" fill="#0a0a0a" opacity="0.96"/>
<rect x="633.25" y="384.30" width="11.50" height="2.60" rx="1.09" fill="#0a0a0a" opacity="0.96"/>
</g></g>
<rect x="601.10" y="378.00" width="46.30" height="16.20" fill="none" stroke="#555" stroke-width="0.7" />
<text x="650.80" y="372.00" font-size="13.3" fill="#111" >PCK2</text>
<text x="650.80" y="390.50" font-size="13.3" fill="#111" >Actin</text>
<text x="447.70" y="370.00" font-size="10" text-anchor="end" fill="#222" textLength="11.5" lengthAdjust="spacingAndGlyphs">75</text>
<line x1="451.30" y1="366.80" x2="454.10" y2="366.80" stroke="#222" stroke-width="0.9" />
<text x="447.70" y="392.80" font-size="10" text-anchor="end" fill="#222" textLength="11.5" lengthAdjust="spacingAndGlyphs">43</text>
<line x1="451.30" y1="389.60" x2="454.10" y2="389.60" stroke="#222" stroke-width="0.9" />
<text x="438.40" y="403.80" font-size="10" fill="#151515" >kDa</text>
<text x="476.80" y="457.80" font-size="13.3" fill="#0d0d0d" >KATO-III</text>
<text x="530.60" y="457.80" font-size="13.3" fill="#0d0d0d" >MKN-45</text>
<text x="581.30" y="457.80" font-size="13.3" fill="#0d0d0d" >MKN-1</text>
<text x="626.70" y="457.80" font-size="13.3" fill="#0d0d0d" >HeLa</text>
<rect x="492.20" y="499.30" width="9.50" height="52.00" fill="#65a4f7" />
<line x1="496.95" y1="498.78" x2="496.95" y2="499.82" stroke="#333" stroke-width="0.6" />
<line x1="495.15" y1="498.78" x2="498.75" y2="498.78" stroke="#333" stroke-width="0.6" />
<line x1="495.15" y1="499.82" x2="498.75" y2="499.82" stroke="#333" stroke-width="0.6" />
<line x1="496.95" y1="551.30" x2="496.95" y2="554.30" stroke="#222" stroke-width="1" />
<text x="501.71" y="556.30" font-size="13.3" text-anchor="end" fill="#0d0d0d" transform="rotate(-90 501.71 556.30)" >siNC</text>
<rect x="503.75" y="508.14" width="9.50" height="43.16" fill="#65a4f7" />
<line x1="508.50" y1="505.02" x2="508.50" y2="511.26" stroke="#333" stroke-width="0.6" />
<line x1="506.70" y1="505.02" x2="510.30" y2="505.02" stroke="#333" stroke-width="0.6" />
<line x1="506.70" y1="511.26" x2="510.30" y2="511.26" stroke="#333" stroke-width="0.6" />
<circle cx="508.50" cy="504.08" r="0.45" fill="#222"/>
<circle cx="508.50" cy="510.95" r="0.45" fill="#222"/>
<circle cx="508.50" cy="507.52" r="0.45" fill="#222"/>
<line x1="508.50" y1="551.30" x2="508.50" y2="554.30" stroke="#222" stroke-width="1" />
<text x="513.26" y="556.30" font-size="13.3" text-anchor="end" fill="#0d0d0d" transform="rotate(-90 513.26 556.30)" >siPCK2 #1</text>
<rect x="515.30" y="506.32" width="9.50" height="44.98" fill="#65a4f7" />
<line x1="520.05" y1="505.28" x2="520.05" y2="507.36" stroke="#333" stroke-width="0.6" />
<line x1="518.25" y1="505.28" x2="521.85" y2="505.28" stroke="#333" stroke-width="0.6" />
<line x1="518.25" y1="507.36" x2="521.85" y2="507.36" stroke="#333" stroke-width="0.6" />
<line x1="520.05" y1="551.30" x2="520.05" y2="554.30" stroke="#222" stroke-width="1" />
<text x="524.81" y="556.30" font-size="13.3" text-anchor="end" fill="#0d0d0d" transform="rotate(-90 524.81 556.30)" >siPCK2 #2</text>
<line x1="497.35" y1="476.90" x2="519.65" y2="476.90" stroke="#333" stroke-width="0.9" />
<text x="508.50" y="477.30" font-size="13.3" text-anchor="middle" fill="#0d0d0d" >*</text>
<line x1="497.35" y1="490.80" x2="508.10" y2="490.80" stroke="#333" stroke-width="0.9" />
<text x="502.73" y="491.40" font-size="13.3" text-anchor="middle" fill="#0d0d0d" >*</text>
<rect x="536.40" y="499.30" width="9.50" height="52.00" fill="#65a4f7" />
<line x1="541.15" y1="496.18" x2="541.15" y2="502.42" stroke="#333" stroke-width="0.6" />
<line x1="539.35" y1="496.18" x2="542.95" y2="496.18" stroke="#333" stroke-width="0.6" />
<line x1="539.35" y1="502.42" x2="542.95" y2="502.42" stroke="#333" stroke-width="0.6" />
<circle cx="541.15" cy="495.24" r="0.45" fill="#222"/>
<circle cx="541.15" cy="502.11" r="0.45" fill="#222"/>
<circle cx="541.15" cy="498.68" r="0.45" fill="#222"/>
<line x1="541.15" y1="551.30" x2="541.15" y2="554.30" stroke="#222" stroke-width="1" />
<text x="545.91" y="556.30" font-size="13.3" text-anchor="end" fill="#0d0d0d" transform="rotate(-90 545.91 556.30)" >siNC</text>
<rect x="547.95" y="516.46" width="9.50" height="34.84" fill="#65a4f7" />
<line x1="552.70" y1="514.90" x2="552.70" y2="518.02" stroke="#333" stroke-width="0.6" />
<line x1="550.90" y1="514.90" x2="554.50" y2="514.90" stroke="#333" stroke-width="0.6" />
<line x1="550.90" y1="518.02" x2="554.50" y2="518.02" stroke="#333" stroke-width="0.6" />
<circle cx="552.70" cy="514.43" r="0.45" fill="#222"/>
<circle cx="552.70" cy="517.86" r="0.45" fill="#222"/>
<circle cx="552.70" cy="516.15" r="0.45" fill="#222"/>
<line x1="552.70" y1="551.30" x2="552.70" y2="554.30" stroke="#222" stroke-width="1" />
<text x="557.46" y="556.30" font-size="13.3" text-anchor="end" fill="#0d0d0d" transform="rotate(-90 557.46 556.30)" >siPCK2 #1</text>
<rect x="559.50" y="515.42" width="9.50" height="35.88" fill="#65a4f7" />
<line x1="564.25" y1="514.38" x2="564.25" y2="516.46" stroke="#333" stroke-width="0.6" />
<line x1="562.45" y1="514.38" x2="566.05" y2="514.38" stroke="#333" stroke-width="0.6" />
<line x1="562.45" y1="516.46" x2="566.05" y2="516.46" stroke="#333" stroke-width="0.6" />
<line x1="564.25" y1="551.30" x2="564.25" y2="554.30" stroke="#222" stroke-width="1" />
<text x="569.01" y="556.30" font-size="13.3" text-anchor="end" fill="#0d0d0d" transform="rotate(-90 569.01 556.30)" >siPCK2 #2</text>
<line x1="541.55" y1="476.90" x2="563.85" y2="476.90" stroke="#333" stroke-width="0.9" />
<text x="552.70" y="477.30" font-size="13.3" text-anchor="middle" fill="#0d0d0d" >**</text>
<line x1="541.55" y1="490.80" x2="552.30" y2="490.80" stroke="#333" stroke-width="0.9" />
<text x="546.92" y="491.40" font-size="13.3" text-anchor="middle" fill="#0d0d0d" >**</text>
<rect x="580.60" y="499.30" width="9.50" height="52.00" fill="#f1757f" />
<line x1="585.35" y1="496.70" x2="585.35" y2="501.90" stroke="#333" stroke-width="0.6" />
<line x1="583.55" y1="496.70" x2="587.15" y2="496.70" stroke="#333" stroke-width="0.6" />
<line x1="583.55" y1="501.90" x2="587.15" y2="501.90" stroke="#333" stroke-width="0.6" />
<circle cx="585.35" cy="495.92" r="0.45" fill="#222"/>
<circle cx="585.35" cy="501.64" r="0.45" fill="#222"/>
<circle cx="585.35" cy="498.78" r="0.45" fill="#222"/>
<line x1="585.35" y1="551.30" x2="585.35" y2="554.30" stroke="#222" stroke-width="1" />
<text x="590.11" y="556.30" font-size="13.3" text-anchor="end" fill="#0d0d0d" transform="rotate(-90 590.11 556.30)" >siNC</text>
<rect x="592.15" y="499.30" width="9.50" height="52.00" fill="#f1757f" />
<line x1="596.90" y1="496.70" x2="596.90" y2="501.90" stroke="#333" stroke-width="0.6" />
<line x1="595.10" y1="496.70" x2="598.70" y2="496.70" stroke="#333" stroke-width="0.6" />
<line x1="595.10" y1="501.90" x2="598.70" y2="501.90" stroke="#333" stroke-width="0.6" />
<circle cx="596.90" cy="495.92" r="0.45" fill="#222"/>
<circle cx="596.90" cy="501.64" r="0.45" fill="#222"/>
<circle cx="596.90" cy="498.78" r="0.45" fill="#222"/>
<line x1="596.90" y1="551.30" x2="596.90" y2="554.30" stroke="#222" stroke-width="1" />
<text x="601.66" y="556.30" font-size="13.3" text-anchor="end" fill="#0d0d0d" transform="rotate(-90 601.66 556.30)" >siPCK2 #1</text>
<rect x="603.70" y="499.30" width="9.50" height="52.00" fill="#f1757f" />
<line x1="608.45" y1="495.66" x2="608.45" y2="502.94" stroke="#333" stroke-width="0.6" />
<line x1="606.65" y1="495.66" x2="610.25" y2="495.66" stroke="#333" stroke-width="0.6" />
<line x1="606.65" y1="502.94" x2="610.25" y2="502.94" stroke="#333" stroke-width="0.6" />
<circle cx="608.45" cy="494.57" r="0.45" fill="#222"/>
<circle cx="608.45" cy="502.58" r="0.45" fill="#222"/>
<circle cx="608.45" cy="498.57" r="0.45" fill="#222"/>
<line x1="608.45" y1="551.30" x2="608.45" y2="554.30" stroke="#222" stroke-width="1" />
<text x="613.21" y="556.30" font-size="13.3" text-anchor="end" fill="#0d0d0d" transform="rotate(-90 613.21 556.30)" >siPCK2 #2</text>
<line x1="587.35" y1="476.20" x2="606.45" y2="476.20" stroke="#333" stroke-width="0.9" />
<text x="597.90" y="473.90" font-size="13.3" text-anchor="middle" fill="#0d0d0d" >ns</text>
<line x1="584.35" y1="489.40" x2="595.90" y2="489.40" stroke="#333" stroke-width="0.9" />
<text x="590.12" y="487.90" font-size="13.3" text-anchor="middle" fill="#0d0d0d" >ns</text>
<rect x="624.80" y="499.30" width="9.50" height="52.00" fill="#f1757f" />
<line x1="629.55" y1="498.26" x2="629.55" y2="500.34" stroke="#333" stroke-width="0.6" />
<line x1="627.75" y1="498.26" x2="631.35" y2="498.26" stroke="#333" stroke-width="0.6" />
<line x1="627.75" y1="500.34" x2="631.35" y2="500.34" stroke="#333" stroke-width="0.6" />
<line x1="629.55" y1="551.30" x2="629.55" y2="554.30" stroke="#222" stroke-width="1" />
<text x="634.31" y="556.30" font-size="13.3" text-anchor="end" fill="#0d0d0d" transform="rotate(-90 634.31 556.30)" >siNC</text>
<rect x="636.35" y="497.74" width="9.50" height="53.56" fill="#f1757f" />
<line x1="641.10" y1="496.18" x2="641.10" y2="499.30" stroke="#333" stroke-width="0.6" />
<line x1="639.30" y1="496.18" x2="642.90" y2="496.18" stroke="#333" stroke-width="0.6" />
<line x1="639.30" y1="499.30" x2="642.90" y2="499.30" stroke="#333" stroke-width="0.6" />
<circle cx="641.10" cy="495.71" r="0.45" fill="#222"/>
<circle cx="641.10" cy="499.14" r="0.45" fill="#222"/>
<circle cx="641.10" cy="497.43" r="0.45" fill="#222"/>
<line x1="641.10" y1="551.30" x2="641.10" y2="554.30" stroke="#222" stroke-width="1" />
<text x="645.86" y="556.30" font-size="13.3" text-anchor="end" fill="#0d0d0d" transform="rotate(-90 645.86 556.30)" >siPCK2 #1</text>
<rect x="647.90" y="498.78" width="9.50" height="52.52" fill="#f1757f" />
<line x1="652.65" y1="498.16" x2="652.65" y2="499.40" stroke="#333" stroke-width="0.6" />
<line x1="650.85" y1="498.16" x2="654.45" y2="498.16" stroke="#333" stroke-width="0.6" />
<line x1="650.85" y1="499.40" x2="654.45" y2="499.40" stroke="#333" stroke-width="0.6" />
<line x1="652.65" y1="551.30" x2="652.65" y2="554.30" stroke="#222" stroke-width="1" />
<text x="657.41" y="556.30" font-size="13.3" text-anchor="end" fill="#0d0d0d" transform="rotate(-90 657.41 556.30)" >siPCK2 #2</text>
<line x1="631.55" y1="476.20" x2="650.65" y2="476.20" stroke="#333" stroke-width="0.9" />
<text x="642.10" y="473.90" font-size="13.3" text-anchor="middle" fill="#0d0d0d" >ns</text>
<line x1="628.55" y1="489.40" x2="640.10" y2="489.40" stroke="#333" stroke-width="0.9" />
<text x="634.32" y="487.90" font-size="13.3" text-anchor="middle" fill="#0d0d0d" >ns</text>
<line x1="486.50" y1="472.80" x2="486.50" y2="551.80" stroke="#222" stroke-width="1" />
<line x1="486.00" y1="551.30" x2="663.50" y2="551.30" stroke="#222" stroke-width="1" />
<line x1="483.50" y1="551.30" x2="486.50" y2="551.30" stroke="#222" stroke-width="1" />
<text x="481.40" y="555.90" font-size="13" text-anchor="end" fill="#0d0d0d" >0</text>
<line x1="483.50" y1="525.30" x2="486.50" y2="525.30" stroke="#222" stroke-width="1" />
<text x="481.40" y="529.90" font-size="13" text-anchor="end" fill="#0d0d0d" >0.5</text>
<line x1="483.50" y1="499.30" x2="486.50" y2="499.30" stroke="#222" stroke-width="1" />
<text x="481.40" y="503.90" font-size="13" text-anchor="end" fill="#0d0d0d" >1.0</text>
<line x1="483.50" y1="473.30" x2="486.50" y2="473.30" stroke="#222" stroke-width="1" />
<text x="481.40" y="477.90" font-size="13" text-anchor="end" fill="#0d0d0d" >1.5</text>
<text x="458.20" y="513.00" font-size="13.3" text-anchor="middle" fill="#0d0d0d" transform="rotate(-90 458.20 513.00)" >Relative G6P Level (A.U.)</text>
<text x="472.30" y="670.70" font-size="13.3" fill="#0d0d0d" >KATO-III</text>
<text x="528.80" y="670.70" font-size="13.3" fill="#0d0d0d" >MKN-45</text>
<text x="582.30" y="670.70" font-size="13.3" fill="#0d0d0d" >MKN-1</text>
<text x="630.60" y="670.70" font-size="13.3" fill="#0d0d0d" >HeLa</text>
<rect x="491.80" y="721.80" width="9.50" height="52.40" fill="#65a4f7" />
<line x1="496.55" y1="717.08" x2="496.55" y2="726.52" stroke="#333" stroke-width="0.6" />
<line x1="494.75" y1="717.08" x2="498.35" y2="717.08" stroke="#333" stroke-width="0.6" />
<line x1="494.75" y1="726.52" x2="498.35" y2="726.52" stroke="#333" stroke-width="0.6" />
<circle cx="496.55" cy="715.67" r="0.45" fill="#222"/>
<circle cx="496.55" cy="726.04" r="0.45" fill="#222"/>
<circle cx="496.55" cy="720.86" r="0.45" fill="#222"/>
<line x1="496.55" y1="774.20" x2="496.55" y2="777.20" stroke="#222" stroke-width="1" />
<text x="501.31" y="777.40" font-size="13.3" text-anchor="end" fill="#0d0d0d" transform="rotate(-90 501.31 777.40)" >siNC</text>
<rect x="503.35" y="757.17" width="9.50" height="17.03" fill="#65a4f7" />
<line x1="508.10" y1="752.98" x2="508.10" y2="761.36" stroke="#333" stroke-width="0.6" />
<line x1="506.30" y1="752.98" x2="509.90" y2="752.98" stroke="#333" stroke-width="0.6" />
<line x1="506.30" y1="761.36" x2="509.90" y2="761.36" stroke="#333" stroke-width="0.6" />
<circle cx="508.10" cy="751.72" r="0.45" fill="#222"/>
<circle cx="508.10" cy="760.94" r="0.45" fill="#222"/>
<circle cx="508.10" cy="756.33" r="0.45" fill="#222"/>
<line x1="508.10" y1="774.20" x2="508.10" y2="777.20" stroke="#222" stroke-width="1" />
<text x="512.86" y="777.40" font-size="13.3" text-anchor="end" fill="#0d0d0d" transform="rotate(-90 512.86 777.40)" >siPCK2 #1</text>
<rect x="514.90" y="756.65" width="9.50" height="17.55" fill="#65a4f7" />
<line x1="519.65" y1="752.98" x2="519.65" y2="760.31" stroke="#333" stroke-width="0.6" />
<line x1="517.85" y1="752.98" x2="521.45" y2="752.98" stroke="#333" stroke-width="0.6" />
<line x1="517.85" y1="760.31" x2="521.45" y2="760.31" stroke="#333" stroke-width="0.6" />
<circle cx="519.65" cy="751.88" r="0.45" fill="#222"/>
<circle cx="519.65" cy="759.95" r="0.45" fill="#222"/>
<circle cx="519.65" cy="755.91" r="0.45" fill="#222"/>
<line x1="519.65" y1="774.20" x2="519.65" y2="777.20" stroke="#222" stroke-width="1" />
<text x="524.41" y="777.40" font-size="13.3" text-anchor="end" fill="#0d0d0d" transform="rotate(-90 524.41 777.40)" >siPCK2 #2</text>
<line x1="496.95" y1="689.30" x2="519.25" y2="689.30" stroke="#333" stroke-width="0.9" />
<text x="508.10" y="690.05" font-size="13.3" text-anchor="middle" fill="#0d0d0d" >****</text>
<line x1="496.95" y1="705.50" x2="507.70" y2="705.50" stroke="#333" stroke-width="0.9" />
<text x="502.33" y="703.75" font-size="13.3" text-anchor="middle" fill="#0d0d0d" >****</text>
<rect x="536.00" y="721.80" width="9.50" height="52.40" fill="#65a4f7" />
<line x1="540.75" y1="717.61" x2="540.75" y2="725.99" stroke="#333" stroke-width="0.6" />
<line x1="538.95" y1="717.61" x2="542.55" y2="717.61" stroke="#333" stroke-width="0.6" />
<line x1="538.95" y1="725.99" x2="542.55" y2="725.99" stroke="#333" stroke-width="0.6" />
<circle cx="540.75" cy="716.35" r="0.45" fill="#222"/>
<circle cx="540.75" cy="725.57" r="0.45" fill="#222"/>
<circle cx="540.75" cy="720.96" r="0.45" fill="#222"/>
<line x1="540.75" y1="774.20" x2="540.75" y2="777.20" stroke="#222" stroke-width="1" />
<text x="545.51" y="777.40" font-size="13.3" text-anchor="end" fill="#0d0d0d" transform="rotate(-90 545.51 777.40)" >siNC</text>
<rect x="547.55" y="756.12" width="9.50" height="18.08" fill="#65a4f7" />
<line x1="552.30" y1="755.60" x2="552.30" y2="756.65" stroke="#333" stroke-width="0.6" />
<line x1="550.50" y1="755.60" x2="554.10" y2="755.60" stroke="#333" stroke-width="0.6" />
<line x1="550.50" y1="756.65" x2="554.10" y2="756.65" stroke="#333" stroke-width="0.6" />
<line x1="552.30" y1="774.20" x2="552.30" y2="777.20" stroke="#222" stroke-width="1" />
<text x="557.06" y="777.40" font-size="13.3" text-anchor="end" fill="#0d0d0d" transform="rotate(-90 557.06 777.40)" >siPCK2 #1</text>
<rect x="559.10" y="757.96" width="9.50" height="16.24" fill="#65a4f7" />
<line x1="563.85" y1="755.86" x2="563.85" y2="760.05" stroke="#333" stroke-width="0.6" />
<line x1="562.05" y1="755.86" x2="565.65" y2="755.86" stroke="#333" stroke-width="0.6" />
<line x1="562.05" y1="760.05" x2="565.65" y2="760.05" stroke="#333" stroke-width="0.6" />
<circle cx="563.85" cy="755.23" r="0.45" fill="#222"/>
<circle cx="563.85" cy="759.84" r="0.45" fill="#222"/>
<circle cx="563.85" cy="757.54" r="0.45" fill="#222"/>
<line x1="563.85" y1="774.20" x2="563.85" y2="777.20" stroke="#222" stroke-width="1" />
<text x="568.61" y="777.40" font-size="13.3" text-anchor="end" fill="#0d0d0d" transform="rotate(-90 568.61 777.40)" >siPCK2 #2</text>
<line x1="541.15" y1="689.30" x2="563.45" y2="689.30" stroke="#333" stroke-width="0.9" />
<text x="552.30" y="690.05" font-size="13.3" text-anchor="middle" fill="#0d0d0d" >****</text>
<line x1="541.15" y1="705.50" x2="551.90" y2="705.50" stroke="#333" stroke-width="0.9" />
<text x="546.52" y="703.75" font-size="13.3" text-anchor="middle" fill="#0d0d0d" >****</text>
<rect x="580.20" y="721.80" width="9.50" height="52.40" fill="#f1757f" />
<line x1="584.95" y1="718.66" x2="584.95" y2="724.94" stroke="#333" stroke-width="0.6" />
<line x1="583.15" y1="718.66" x2="586.75" y2="718.66" stroke="#333" stroke-width="0.6" />
<line x1="583.15" y1="724.94" x2="586.75" y2="724.94" stroke="#333" stroke-width="0.6" />
<circle cx="584.95" cy="717.71" r="0.45" fill="#222"/>
<circle cx="584.95" cy="724.63" r="0.45" fill="#222"/>
<circle cx="584.95" cy="721.17" r="0.45" fill="#222"/>
<line x1="584.95" y1="774.20" x2="584.95" y2="777.20" stroke="#222" stroke-width="1" />
<text x="589.71" y="777.40" font-size="13.3" text-anchor="end" fill="#0d0d0d" transform="rotate(-90 589.71 777.40)" >siNC</text>
<rect x="591.75" y="719.70" width="9.50" height="54.50" fill="#f1757f" />
<line x1="596.50" y1="717.61" x2="596.50" y2="721.80" stroke="#333" stroke-width="0.6" />
<line x1="594.70" y1="717.61" x2="598.30" y2="717.61" stroke="#333" stroke-width="0.6" />
<line x1="594.70" y1="721.80" x2="598.30" y2="721.80" stroke="#333" stroke-width="0.6" />
<circle cx="596.50" cy="716.98" r="0.45" fill="#222"/>
<circle cx="596.50" cy="721.59" r="0.45" fill="#222"/>
<circle cx="596.50" cy="719.28" r="0.45" fill="#222"/>
<line x1="596.50" y1="774.20" x2="596.50" y2="777.20" stroke="#222" stroke-width="1" />
<text x="601.26" y="777.40" font-size="13.3" text-anchor="end" fill="#0d0d0d" transform="rotate(-90 601.26 777.40)" >siPCK2 #1</text>
<rect x="603.30" y="723.90" width="9.50" height="50.30" fill="#f1757f" />
<line x1="608.05" y1="719.70" x2="608.05" y2="728.09" stroke="#333" stroke-width="0.6" />
<line x1="606.25" y1="719.70" x2="609.85" y2="719.70" stroke="#333" stroke-width="0.6" />
<line x1="606.25" y1="728.09" x2="609.85" y2="728.09" stroke="#333" stroke-width="0.6" />
<circle cx="608.05" cy="718.45" r="0.45" fill="#222"/>
<circle cx="608.05" cy="727.67" r="0.45" fill="#222"/>
<circle cx="608.05" cy="723.06" r="0.45" fill="#222"/>
<line x1="608.05" y1="774.20" x2="608.05" y2="777.20" stroke="#222" stroke-width="1" />
<text x="612.81" y="777.40" font-size="13.3" text-anchor="end" fill="#0d0d0d" transform="rotate(-90 612.81 777.40)" >siPCK2 #2</text>
<line x1="586.95" y1="689.00" x2="606.05" y2="689.00" stroke="#333" stroke-width="0.9" />
<text x="597.50" y="686.70" font-size="13.3" text-anchor="middle" fill="#0d0d0d" >ns</text>
<line x1="583.95" y1="704.50" x2="595.50" y2="704.50" stroke="#333" stroke-width="0.9" />
<text x="589.73" y="703.00" font-size="13.3" text-anchor="middle" fill="#0d0d0d" >ns</text>
<rect x="624.40" y="721.80" width="9.50" height="52.40" fill="#f1757f" />
<line x1="629.15" y1="716.56" x2="629.15" y2="727.04" stroke="#333" stroke-width="0.6" />
<line x1="627.35" y1="716.56" x2="630.95" y2="716.56" stroke="#333" stroke-width="0.6" />
<line x1="627.35" y1="727.04" x2="630.95" y2="727.04" stroke="#333" stroke-width="0.6" />
<circle cx="629.15" cy="714.99" r="0.45" fill="#222"/>
<circle cx="629.15" cy="726.52" r="0.45" fill="#222"/>
<circle cx="629.15" cy="720.75" r="0.45" fill="#222"/>
<line x1="629.15" y1="774.20" x2="629.15" y2="777.20" stroke="#222" stroke-width="1" />
<text x="633.91" y="777.40" font-size="13.3" text-anchor="end" fill="#0d0d0d" transform="rotate(-90 633.91 777.40)" >siNC</text>
<rect x="635.95" y="717.08" width="9.50" height="57.12" fill="#f1757f" />
<line x1="640.70" y1="709.75" x2="640.70" y2="724.42" stroke="#333" stroke-width="0.6" />
<line x1="638.90" y1="709.75" x2="642.50" y2="709.75" stroke="#333" stroke-width="0.6" />
<line x1="638.90" y1="724.42" x2="642.50" y2="724.42" stroke="#333" stroke-width="0.6" />
<circle cx="640.70" cy="707.55" r="0.45" fill="#222"/>
<circle cx="640.70" cy="723.69" r="0.45" fill="#222"/>
<circle cx="640.70" cy="715.62" r="0.45" fill="#222"/>
<line x1="640.70" y1="774.20" x2="640.70" y2="777.20" stroke="#222" stroke-width="1" />
<text x="645.46" y="777.40" font-size="13.3" text-anchor="end" fill="#0d0d0d" transform="rotate(-90 645.46 777.40)" >siPCK2 #1</text>
<rect x="647.50" y="723.37" width="9.50" height="50.83" fill="#f1757f" />
<line x1="652.25" y1="719.70" x2="652.25" y2="727.04" stroke="#333" stroke-width="0.6" />
<line x1="650.45" y1="719.70" x2="654.05" y2="719.70" stroke="#333" stroke-width="0.6" />
<line x1="650.45" y1="727.04" x2="654.05" y2="727.04" stroke="#333" stroke-width="0.6" />
<circle cx="652.25" cy="718.60" r="0.45" fill="#222"/>
<circle cx="652.25" cy="726.67" r="0.45" fill="#222"/>
<circle cx="652.25" cy="722.64" r="0.45" fill="#222"/>
<line x1="652.25" y1="774.20" x2="652.25" y2="777.20" stroke="#222" stroke-width="1" />
<text x="657.01" y="777.40" font-size="13.3" text-anchor="end" fill="#0d0d0d" transform="rotate(-90 657.01 777.40)" >siPCK2 #2</text>
<line x1="631.15" y1="689.00" x2="650.25" y2="689.00" stroke="#333" stroke-width="0.9" />
<text x="641.70" y="686.70" font-size="13.3" text-anchor="middle" fill="#0d0d0d" >ns</text>
<line x1="628.15" y1="704.50" x2="639.70" y2="704.50" stroke="#333" stroke-width="0.9" />
<text x="633.93" y="703.00" font-size="13.3" text-anchor="middle" fill="#0d0d0d" >ns</text>
<line x1="486.10" y1="695.10" x2="486.10" y2="774.70" stroke="#222" stroke-width="1" />
<line x1="485.60" y1="774.20" x2="663.50" y2="774.20" stroke="#222" stroke-width="1" />
<line x1="483.10" y1="774.20" x2="486.10" y2="774.20" stroke="#222" stroke-width="1" />
<text x="481.00" y="778.80" font-size="13" text-anchor="end" fill="#0d0d0d" >0</text>
<line x1="483.10" y1="748.00" x2="486.10" y2="748.00" stroke="#222" stroke-width="1" />
<text x="481.00" y="752.60" font-size="13" text-anchor="end" fill="#0d0d0d" >0.5</text>
<line x1="483.10" y1="721.80" x2="486.10" y2="721.80" stroke="#222" stroke-width="1" />
<text x="481.00" y="726.40" font-size="13" text-anchor="end" fill="#0d0d0d" >1.0</text>
<line x1="483.10" y1="695.60" x2="486.10" y2="695.60" stroke="#222" stroke-width="1" />
<text x="481.00" y="700.20" font-size="13" text-anchor="end" fill="#0d0d0d" >1.5</text>
<text x="458.20" y="735.00" font-size="13.3" text-anchor="middle" fill="#0d0d0d" transform="rotate(-90 458.20 735.00)" >Cell Viability (A.U.)</text>
</svg>
</body></html>
